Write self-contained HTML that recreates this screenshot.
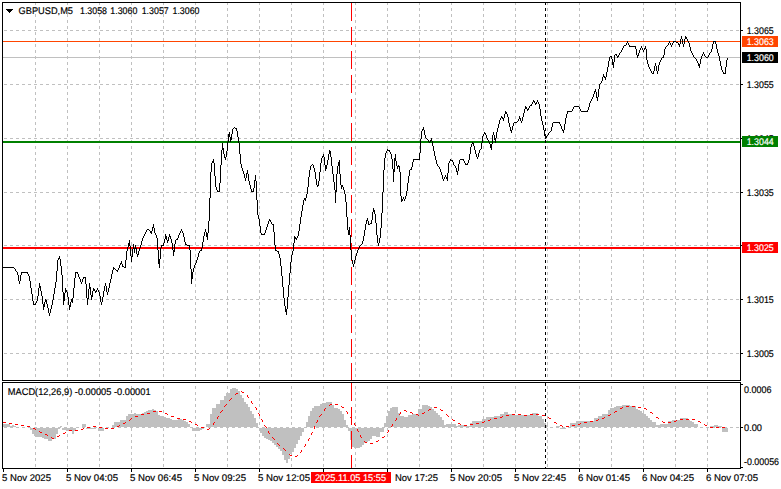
<!DOCTYPE html>
<html><head><meta charset="utf-8"><style>
html,body{margin:0;padding:0;background:#fff;width:781px;height:489px;overflow:hidden;position:relative}
</style></head><body>
<svg width="781" height="489" viewBox="0 0 781 489" style="position:absolute;left:0;top:0">
<g shape-rendering="crispEdges">
<line x1="4" y1="30.5" x2="739" y2="30.5" stroke="#c0c0c0" stroke-width="1" stroke-dasharray="3 3"/>
<line x1="4" y1="84.5" x2="739" y2="84.5" stroke="#c0c0c0" stroke-width="1" stroke-dasharray="3 3"/>
<line x1="4" y1="138.5" x2="739" y2="138.5" stroke="#c0c0c0" stroke-width="1" stroke-dasharray="3 3"/>
<line x1="4" y1="192.5" x2="739" y2="192.5" stroke="#c0c0c0" stroke-width="1" stroke-dasharray="3 3"/>
<line x1="4" y1="245.5" x2="739" y2="245.5" stroke="#c0c0c0" stroke-width="1" stroke-dasharray="3 3"/>
<line x1="4" y1="299.5" x2="739" y2="299.5" stroke="#c0c0c0" stroke-width="1" stroke-dasharray="3 3"/>
<line x1="4" y1="353.5" x2="739" y2="353.5" stroke="#c0c0c0" stroke-width="1" stroke-dasharray="3 3"/>
<line x1="4" y1="427.5" x2="739" y2="427.5" stroke="#c0c0c0" stroke-width="1" stroke-dasharray="3 3"/>
<line x1="35.5" y1="2" x2="35.5" y2="380" stroke="#c0c0c0" stroke-width="1" stroke-dasharray="3 3"/>
<line x1="35.5" y1="386" x2="35.5" y2="468" stroke="#c0c0c0" stroke-width="1" stroke-dasharray="3 3"/>
<line x1="67.5" y1="2" x2="67.5" y2="380" stroke="#c0c0c0" stroke-width="1" stroke-dasharray="3 3"/>
<line x1="67.5" y1="386" x2="67.5" y2="468" stroke="#c0c0c0" stroke-width="1" stroke-dasharray="3 3"/>
<line x1="99.5" y1="2" x2="99.5" y2="380" stroke="#c0c0c0" stroke-width="1" stroke-dasharray="3 3"/>
<line x1="99.5" y1="386" x2="99.5" y2="468" stroke="#c0c0c0" stroke-width="1" stroke-dasharray="3 3"/>
<line x1="131.5" y1="2" x2="131.5" y2="380" stroke="#c0c0c0" stroke-width="1" stroke-dasharray="3 3"/>
<line x1="131.5" y1="386" x2="131.5" y2="468" stroke="#c0c0c0" stroke-width="1" stroke-dasharray="3 3"/>
<line x1="163.5" y1="2" x2="163.5" y2="380" stroke="#c0c0c0" stroke-width="1" stroke-dasharray="3 3"/>
<line x1="163.5" y1="386" x2="163.5" y2="468" stroke="#c0c0c0" stroke-width="1" stroke-dasharray="3 3"/>
<line x1="195.5" y1="2" x2="195.5" y2="380" stroke="#c0c0c0" stroke-width="1" stroke-dasharray="3 3"/>
<line x1="195.5" y1="386" x2="195.5" y2="468" stroke="#c0c0c0" stroke-width="1" stroke-dasharray="3 3"/>
<line x1="227.5" y1="2" x2="227.5" y2="380" stroke="#c0c0c0" stroke-width="1" stroke-dasharray="3 3"/>
<line x1="227.5" y1="386" x2="227.5" y2="468" stroke="#c0c0c0" stroke-width="1" stroke-dasharray="3 3"/>
<line x1="259.5" y1="2" x2="259.5" y2="380" stroke="#c0c0c0" stroke-width="1" stroke-dasharray="3 3"/>
<line x1="259.5" y1="386" x2="259.5" y2="468" stroke="#c0c0c0" stroke-width="1" stroke-dasharray="3 3"/>
<line x1="291.5" y1="2" x2="291.5" y2="380" stroke="#c0c0c0" stroke-width="1" stroke-dasharray="3 3"/>
<line x1="291.5" y1="386" x2="291.5" y2="468" stroke="#c0c0c0" stroke-width="1" stroke-dasharray="3 3"/>
<line x1="323.5" y1="2" x2="323.5" y2="380" stroke="#c0c0c0" stroke-width="1" stroke-dasharray="3 3"/>
<line x1="323.5" y1="386" x2="323.5" y2="468" stroke="#c0c0c0" stroke-width="1" stroke-dasharray="3 3"/>
<line x1="355.5" y1="2" x2="355.5" y2="380" stroke="#c0c0c0" stroke-width="1" stroke-dasharray="3 3"/>
<line x1="355.5" y1="386" x2="355.5" y2="468" stroke="#c0c0c0" stroke-width="1" stroke-dasharray="3 3"/>
<line x1="387.5" y1="2" x2="387.5" y2="380" stroke="#c0c0c0" stroke-width="1" stroke-dasharray="3 3"/>
<line x1="387.5" y1="386" x2="387.5" y2="468" stroke="#c0c0c0" stroke-width="1" stroke-dasharray="3 3"/>
<line x1="419.5" y1="2" x2="419.5" y2="380" stroke="#c0c0c0" stroke-width="1" stroke-dasharray="3 3"/>
<line x1="419.5" y1="386" x2="419.5" y2="468" stroke="#c0c0c0" stroke-width="1" stroke-dasharray="3 3"/>
<line x1="451.5" y1="2" x2="451.5" y2="380" stroke="#c0c0c0" stroke-width="1" stroke-dasharray="3 3"/>
<line x1="451.5" y1="386" x2="451.5" y2="468" stroke="#c0c0c0" stroke-width="1" stroke-dasharray="3 3"/>
<line x1="483.5" y1="2" x2="483.5" y2="380" stroke="#c0c0c0" stroke-width="1" stroke-dasharray="3 3"/>
<line x1="483.5" y1="386" x2="483.5" y2="468" stroke="#c0c0c0" stroke-width="1" stroke-dasharray="3 3"/>
<line x1="515.5" y1="2" x2="515.5" y2="380" stroke="#c0c0c0" stroke-width="1" stroke-dasharray="3 3"/>
<line x1="515.5" y1="386" x2="515.5" y2="468" stroke="#c0c0c0" stroke-width="1" stroke-dasharray="3 3"/>
<line x1="547.5" y1="2" x2="547.5" y2="380" stroke="#c0c0c0" stroke-width="1" stroke-dasharray="3 3"/>
<line x1="547.5" y1="386" x2="547.5" y2="468" stroke="#c0c0c0" stroke-width="1" stroke-dasharray="3 3"/>
<line x1="579.5" y1="2" x2="579.5" y2="380" stroke="#c0c0c0" stroke-width="1" stroke-dasharray="3 3"/>
<line x1="579.5" y1="386" x2="579.5" y2="468" stroke="#c0c0c0" stroke-width="1" stroke-dasharray="3 3"/>
<line x1="611.5" y1="2" x2="611.5" y2="380" stroke="#c0c0c0" stroke-width="1" stroke-dasharray="3 3"/>
<line x1="611.5" y1="386" x2="611.5" y2="468" stroke="#c0c0c0" stroke-width="1" stroke-dasharray="3 3"/>
<line x1="643.5" y1="2" x2="643.5" y2="380" stroke="#c0c0c0" stroke-width="1" stroke-dasharray="3 3"/>
<line x1="643.5" y1="386" x2="643.5" y2="468" stroke="#c0c0c0" stroke-width="1" stroke-dasharray="3 3"/>
<line x1="675.5" y1="2" x2="675.5" y2="380" stroke="#c0c0c0" stroke-width="1" stroke-dasharray="3 3"/>
<line x1="675.5" y1="386" x2="675.5" y2="468" stroke="#c0c0c0" stroke-width="1" stroke-dasharray="3 3"/>
<line x1="707.5" y1="2" x2="707.5" y2="380" stroke="#c0c0c0" stroke-width="1" stroke-dasharray="3 3"/>
<line x1="707.5" y1="386" x2="707.5" y2="468" stroke="#c0c0c0" stroke-width="1" stroke-dasharray="3 3"/>
</g>
<path d="M2 424h2V427h-2zM4 424h2V427h-2zM6 424h2V427h-2zM8 424h2V427h-2zM10 426h2V427h-2zM12 425h2V427h-2zM14 426h2V427h-2zM30 428h2V430h-2zM32 428h2V434h-2zM34 428h2V436h-2zM36 428h2V437h-2zM38 428h2V437h-2zM40 428h2V437h-2zM42 428h2V438h-2zM44 428h2V439h-2zM46 428h2V439h-2zM48 428h2V441h-2zM50 428h2V441h-2zM52 428h2V439h-2zM54 428h2V439h-2zM56 428h2V434h-2zM58 428h2V429h-2zM60 426h2V427h-2zM62 428h2V430h-2zM64 428h2V430h-2zM66 428h2V431h-2zM68 428h2V431h-2zM70 428h2V431h-2zM72 428h2V434h-2zM74 428h2V431h-2zM82 424h2V427h-2zM84 424h2V427h-2zM86 428h2V429h-2zM88 428h2V429h-2zM90 428h2V429h-2zM92 428h2V429h-2zM94 428h2V429h-2zM98 428h2V431h-2zM100 428h2V431h-2zM102 428h2V431h-2zM112 425h2V427h-2zM114 422h2V427h-2zM116 422h2V427h-2zM118 422h2V427h-2zM120 420h2V427h-2zM122 420h2V427h-2zM124 420h2V427h-2zM126 416h2V427h-2zM128 414h2V427h-2zM130 414h2V427h-2zM132 414h2V427h-2zM134 413h2V427h-2zM136 414h2V427h-2zM138 414h2V427h-2zM140 414h2V427h-2zM142 413h2V427h-2zM144 412h2V427h-2zM146 411h2V427h-2zM148 410h2V427h-2zM150 410h2V427h-2zM152 409h2V427h-2zM154 410h2V427h-2zM156 411h2V427h-2zM158 415h2V427h-2zM160 416h2V427h-2zM162 416h2V427h-2zM164 417h2V427h-2zM166 418h2V427h-2zM168 418h2V427h-2zM170 419h2V427h-2zM172 420h2V427h-2zM174 420h2V427h-2zM176 420h2V427h-2zM178 419h2V427h-2zM180 419h2V427h-2zM182 420h2V427h-2zM184 421h2V427h-2zM186 422h2V427h-2zM188 424h2V427h-2zM192 428h2V431h-2zM194 428h2V431h-2zM196 428h2V431h-2zM198 428h2V431h-2zM200 428h2V430h-2zM202 428h2V429h-2zM206 424h2V427h-2zM208 424h2V427h-2zM210 414h2V427h-2zM212 408h2V427h-2zM214 408h2V427h-2zM216 404h2V427h-2zM218 404h2V427h-2zM220 400h2V427h-2zM222 400h2V427h-2zM224 396h2V427h-2zM226 393h2V427h-2zM228 393h2V427h-2zM230 389h2V427h-2zM232 388h2V427h-2zM234 388h2V427h-2zM236 389h2V427h-2zM238 391h2V427h-2zM240 395h2V427h-2zM242 398h2V427h-2zM244 402h2V427h-2zM246 404h2V427h-2zM248 407h2V427h-2zM250 411h2V427h-2zM252 414h2V427h-2zM254 418h2V427h-2zM256 423h2V427h-2zM260 428h2V433h-2zM262 428h2V436h-2zM264 428h2V438h-2zM266 428h2V439h-2zM268 428h2V440h-2zM270 428h2V441h-2zM272 428h2V443h-2zM274 428h2V445h-2zM276 428h2V447h-2zM278 428h2V449h-2zM280 428h2V451h-2zM282 428h2V455h-2zM284 428h2V460h-2zM286 428h2V463h-2zM288 428h2V459h-2zM290 428h2V454h-2zM292 428h2V452h-2zM294 428h2V448h-2zM296 428h2V444h-2zM298 428h2V440h-2zM300 428h2V436h-2zM302 428h2V432h-2zM306 422h2V427h-2zM308 416h2V427h-2zM310 411h2V427h-2zM312 408h2V427h-2zM314 406h2V427h-2zM316 406h2V427h-2zM318 406h2V427h-2zM320 404h2V427h-2zM322 403h2V427h-2zM324 403h2V427h-2zM326 402h2V427h-2zM328 402h2V427h-2zM330 402h2V427h-2zM332 405h2V427h-2zM334 408h2V427h-2zM336 408h2V427h-2zM338 409h2V427h-2zM340 411h2V427h-2zM342 414h2V427h-2zM344 420h2V427h-2zM346 425h2V427h-2zM348 428h2V431h-2zM350 428h2V440h-2zM352 428h2V447h-2zM354 428h2V448h-2zM356 428h2V448h-2zM358 428h2V448h-2zM360 428h2V447h-2zM362 428h2V445h-2zM364 428h2V443h-2zM366 428h2V442h-2zM368 428h2V441h-2zM370 428h2V439h-2zM372 428h2V436h-2zM374 428h2V436h-2zM376 428h2V437h-2zM378 428h2V437h-2zM380 428h2V432h-2zM382 428h2V432h-2zM384 423h2V427h-2zM386 416h2V427h-2zM388 411h2V427h-2zM390 408h2V427h-2zM392 407h2V427h-2zM394 407h2V427h-2zM396 407h2V427h-2zM398 413h2V427h-2zM400 416h2V427h-2zM402 416h2V427h-2zM404 417h2V427h-2zM406 417h2V427h-2zM408 415h2V427h-2zM410 415h2V427h-2zM412 414h2V427h-2zM414 414h2V427h-2zM416 414h2V427h-2zM418 409h2V427h-2zM420 409h2V427h-2zM422 405h2V427h-2zM424 405h2V427h-2zM426 405h2V427h-2zM428 406h2V427h-2zM430 407h2V427h-2zM432 409h2V427h-2zM434 411h2V427h-2zM436 413h2V427h-2zM438 415h2V427h-2zM440 417h2V427h-2zM442 420h2V427h-2zM444 425h2V427h-2zM446 424h2V427h-2zM448 424h2V427h-2zM450 424h2V427h-2zM452 424h2V427h-2zM454 424h2V427h-2zM456 426h2V427h-2zM458 425h2V427h-2zM460 425h2V427h-2zM462 425h2V427h-2zM464 426h2V427h-2zM466 426h2V427h-2zM468 426h2V427h-2zM470 423h2V427h-2zM472 421h2V427h-2zM474 421h2V427h-2zM476 421h2V427h-2zM478 421h2V427h-2zM480 421h2V427h-2zM482 419h2V427h-2zM484 419h2V427h-2zM486 417h2V427h-2zM488 417h2V427h-2zM490 417h2V427h-2zM492 417h2V427h-2zM494 416h2V427h-2zM496 416h2V427h-2zM498 416h2V427h-2zM500 414h2V427h-2zM502 414h2V427h-2zM504 412h2V427h-2zM506 412h2V427h-2zM508 414h2V427h-2zM510 414h2V427h-2zM512 415h2V427h-2zM514 415h2V427h-2zM516 415h2V427h-2zM518 415h2V427h-2zM520 415h2V427h-2zM522 415h2V427h-2zM524 415h2V427h-2zM526 415h2V427h-2zM528 415h2V427h-2zM530 415h2V427h-2zM532 413h2V427h-2zM534 413h2V427h-2zM536 413h2V427h-2zM538 416h2V427h-2zM540 416h2V427h-2zM542 419h2V427h-2zM544 423h2V427h-2zM546 425h2V427h-2zM556 426h2V427h-2zM558 426h2V427h-2zM560 428h2V429h-2zM562 428h2V429h-2zM564 428h2V429h-2zM570 423h2V427h-2zM572 423h2V427h-2zM574 423h2V427h-2zM576 421h2V427h-2zM578 421h2V427h-2zM580 421h2V427h-2zM582 421h2V427h-2zM584 421h2V427h-2zM586 421h2V427h-2zM588 421h2V427h-2zM590 421h2V427h-2zM592 421h2V427h-2zM594 418h2V427h-2zM596 418h2V427h-2zM598 416h2V427h-2zM600 416h2V427h-2zM602 414h2V427h-2zM604 414h2V427h-2zM606 414h2V427h-2zM608 410h2V427h-2zM610 408h2V427h-2zM612 408h2V427h-2zM614 407h2V427h-2zM616 406h2V427h-2zM618 406h2V427h-2zM620 406h2V427h-2zM622 405h2V427h-2zM624 405h2V427h-2zM626 405h2V427h-2zM628 405h2V427h-2zM630 406h2V427h-2zM632 406h2V427h-2zM634 406h2V427h-2zM636 409h2V427h-2zM638 410h2V427h-2zM640 411h2V427h-2zM642 413h2V427h-2zM644 414h2V427h-2zM646 416h2V427h-2zM648 418h2V427h-2zM650 420h2V427h-2zM652 422h2V427h-2zM654 422h2V427h-2zM656 425h2V427h-2zM658 425h2V427h-2zM660 424h2V427h-2zM662 424h2V427h-2zM664 424h2V427h-2zM666 424h2V427h-2zM668 421h2V427h-2zM670 421h2V427h-2zM672 420h2V427h-2zM674 420h2V427h-2zM676 420h2V427h-2zM678 420h2V427h-2zM680 418h2V427h-2zM682 418h2V427h-2zM684 418h2V427h-2zM686 418h2V427h-2zM688 420h2V427h-2zM690 421h2V427h-2zM692 422h2V427h-2zM694 424h2V427h-2zM696 424h2V427h-2zM710 426h2V427h-2zM712 426h2V427h-2zM714 425h2V427h-2zM716 425h2V427h-2zM718 426h2V427h-2zM720 426h2V427h-2zM722 428h2V432h-2zM724 428h2V432h-2zM726 428h2V432h-2z" fill="#c0c0c0" shape-rendering="crispEdges"/>
<path d="M3 422h1v1h-1zM4 422h1v1h-1zM5 422h1v1h-1zM9 423h1v1h-1zM10 423h1v1h-1zM11 423h1v1h-1zM15 424h1v1h-1zM16 424h1v1h-1zM17 424h1v1h-1zM21 425h1v1h-1zM22 425h1v1h-1zM23 425h1v1h-1zM27 426h1v1h-1zM28 426h1v1h-1zM29 426h1v1h-1zM33 428h1v1h-1zM34 428h1v1h-1zM35 429h1v1h-1zM39 431h1v1h-1zM40 432h1v1h-1zM41 432h1v1h-1zM45 434h1v1h-1zM46 434h1v1h-1zM47 435h1v1h-1zM51 437h1v1h-1zM52 438h1v1h-1zM53 438h1v1h-1zM57 436h1v1h-1zM58 436h1v1h-1zM59 435h1v1h-1zM63 433h1v1h-1zM64 433h1v1h-1zM65 432h1v1h-1zM69 430h1v1h-1zM70 430h1v1h-1zM71 430h1v1h-1zM75 430h1v1h-1zM76 430h1v1h-1zM77 430h1v1h-1zM81 429h1v1h-1zM82 429h1v1h-1zM83 428h1v1h-1zM87 427h1v1h-1zM88 427h1v1h-1zM89 427h1v1h-1zM93 426h1v1h-1zM94 426h1v1h-1zM95 426h1v1h-1zM99 427h1v1h-1zM100 427h1v1h-1zM101 427h1v1h-1zM105 428h1v1h-1zM106 428h1v1h-1zM107 428h1v1h-1zM111 428h1v1h-1zM112 428h1v1h-1zM113 428h1v1h-1zM117 426h1v1h-1zM118 426h1v1h-1zM119 425h1v1h-1zM123 423h1v1h-1zM124 423h1v1h-1zM125 422h1v1h-1zM129 420h1v1h-1zM130 419h1v1h-1zM131 418h1v1h-1zM135 416h1v1h-1zM136 416h1v1h-1zM137 416h1v1h-1zM141 414h1v1h-1zM142 414h1v1h-1zM143 414h1v1h-1zM147 413h1v1h-1zM148 413h1v1h-1zM149 413h1v1h-1zM153 411h1v1h-1zM154 411h1v1h-1zM155 411h1v1h-1zM159 411h1v1h-1zM160 411h1v1h-1zM161 411h1v1h-1zM165 413h1v1h-1zM166 413h1v1h-1zM167 414h1v1h-1zM171 416h1v1h-1zM172 416h1v1h-1zM173 416h1v1h-1zM177 418h1v1h-1zM178 418h1v1h-1zM179 418h1v1h-1zM183 419h1v1h-1zM184 419h1v1h-1zM185 419h1v1h-1zM189 421h1v1h-1zM190 421h1v1h-1zM191 422h1v1h-1zM195 424h1v1h-1zM196 424h1v1h-1zM197 425h1v1h-1zM201 427h1v1h-1zM202 427h1v1h-1zM203 427h1v1h-1zM207 429h1v1h-1zM208 429h1v1h-1zM209 428h1v1h-1zM213 424h1v1h-1zM213 423h1v1h-1zM214 422h1v1h-1zM217 418h1v1h-1zM217 417h1v1h-1zM218 416h1v1h-1zM220 412h1v1h-1zM221 411h1v1h-1zM222 410h1v1h-1zM224 406h1v1h-1zM225 405h1v1h-1zM226 404h1v1h-1zM229 400h1v1h-1zM230 399h1v1h-1zM231 398h1v1h-1zM235 394h1v1h-1zM236 393h1v1h-1zM237 393h1v1h-1zM241 391h1v1h-1zM242 392h1v1h-1zM243 392h1v1h-1zM247 395h1v1h-1zM247 396h1v1h-1zM248 397h1v1h-1zM251 401h1v1h-1zM251 402h1v1h-1zM252 403h1v1h-1zM255 407h1v1h-1zM256 408h1v1h-1zM256 409h1v1h-1zM258 413h1v1h-1zM259 414h1v1h-1zM259 415h1v1h-1zM261 419h1v1h-1zM262 420h1v1h-1zM262 421h1v1h-1zM264 425h1v1h-1zM265 426h1v1h-1zM266 427h1v1h-1zM268 431h1v1h-1zM268 432h1v1h-1zM269 433h1v1h-1zM272 437h1v1h-1zM273 438h1v1h-1zM274 439h1v1h-1zM277 443h1v1h-1zM278 444h1v1h-1zM279 445h1v1h-1zM283 448h1v1h-1zM284 449h1v1h-1zM285 450h1v1h-1zM289 454h1v1h-1zM290 455h1v1h-1zM291 455h1v1h-1zM295 456h1v1h-1zM296 456h1v1h-1zM297 455h1v1h-1zM300 452h1v1h-1zM301 451h1v1h-1zM301 450h1v1h-1zM304 446h1v1h-1zM305 445h1v1h-1zM305 444h1v1h-1zM308 440h1v1h-1zM308 439h1v1h-1zM309 438h1v1h-1zM311 434h1v1h-1zM311 433h1v1h-1zM312 432h1v1h-1zM314 428h1v1h-1zM314 427h1v1h-1zM314 426h1v1h-1zM316 422h1v1h-1zM317 421h1v1h-1zM317 420h1v1h-1zM319 416h1v1h-1zM320 415h1v1h-1zM321 414h1v1h-1zM324 410h1v1h-1zM324 409h1v1h-1zM325 408h1v1h-1zM329 405h1v1h-1zM330 404h1v1h-1zM331 404h1v1h-1zM335 404h1v1h-1zM336 404h1v1h-1zM337 404h1v1h-1zM341 406h1v1h-1zM342 407h1v1h-1zM343 407h1v1h-1zM346 411h1v1h-1zM347 412h1v1h-1zM347 413h1v1h-1zM350 417h1v1h-1zM351 418h1v1h-1zM351 419h1v1h-1zM354 423h1v1h-1zM354 424h1v1h-1zM355 425h1v1h-1zM357 429h1v1h-1zM357 430h1v1h-1zM358 431h1v1h-1zM360 435h1v1h-1zM360 436h1v1h-1zM361 437h1v1h-1zM364 441h1v1h-1zM365 442h1v1h-1zM366 442h1v1h-1zM370 443h1v1h-1zM371 443h1v1h-1zM372 443h1v1h-1zM376 441h1v1h-1zM377 441h1v1h-1zM378 440h1v1h-1zM382 437h1v1h-1zM383 437h1v1h-1zM384 436h1v1h-1zM387 432h1v1h-1zM388 431h1v1h-1zM388 430h1v1h-1zM391 426h1v1h-1zM392 425h1v1h-1zM392 424h1v1h-1zM395 420h1v1h-1zM396 419h1v1h-1zM396 418h1v1h-1zM399 414h1v1h-1zM400 413h1v1h-1zM400 412h1v1h-1zM404 410h1v1h-1zM405 410h1v1h-1zM406 411h1v1h-1zM410 412h1v1h-1zM411 412h1v1h-1zM412 413h1v1h-1zM416 414h1v1h-1zM417 414h1v1h-1zM418 415h1v1h-1zM422 413h1v1h-1zM423 413h1v1h-1zM424 412h1v1h-1zM428 410h1v1h-1zM429 409h1v1h-1zM430 409h1v1h-1zM434 407h1v1h-1zM435 407h1v1h-1zM436 407h1v1h-1zM440 409h1v1h-1zM441 410h1v1h-1zM442 410h1v1h-1zM446 414h1v1h-1zM447 415h1v1h-1zM448 416h1v1h-1zM452 419h1v1h-1zM453 420h1v1h-1zM454 420h1v1h-1zM458 423h1v1h-1zM459 423h1v1h-1zM460 424h1v1h-1zM464 425h1v1h-1zM465 425h1v1h-1zM466 425h1v1h-1zM470 424h1v1h-1zM471 424h1v1h-1zM472 424h1v1h-1zM476 423h1v1h-1zM477 423h1v1h-1zM478 423h1v1h-1zM482 422h1v1h-1zM483 422h1v1h-1zM484 421h1v1h-1zM488 420h1v1h-1zM489 420h1v1h-1zM490 419h1v1h-1zM494 418h1v1h-1zM495 418h1v1h-1zM496 418h1v1h-1zM500 417h1v1h-1zM501 417h1v1h-1zM502 416h1v1h-1zM506 415h1v1h-1zM507 415h1v1h-1zM508 415h1v1h-1zM512 414h1v1h-1zM513 414h1v1h-1zM514 414h1v1h-1zM518 414h1v1h-1zM519 414h1v1h-1zM520 414h1v1h-1zM524 415h1v1h-1zM525 415h1v1h-1zM526 415h1v1h-1zM530 414h1v1h-1zM531 414h1v1h-1zM532 414h1v1h-1zM536 414h1v1h-1zM537 414h1v1h-1zM538 414h1v1h-1zM542 415h1v1h-1zM543 415h1v1h-1zM544 415h1v1h-1zM548 417h1v1h-1zM549 418h1v1h-1zM550 418h1v1h-1zM554 422h1v1h-1zM555 422h1v1h-1zM556 423h1v1h-1zM560 425h1v1h-1zM561 425h1v1h-1zM562 426h1v1h-1zM566 426h1v1h-1zM567 426h1v1h-1zM568 426h1v1h-1zM572 425h1v1h-1zM573 425h1v1h-1zM574 425h1v1h-1zM578 424h1v1h-1zM579 424h1v1h-1zM580 423h1v1h-1zM584 422h1v1h-1zM585 422h1v1h-1zM586 422h1v1h-1zM590 421h1v1h-1zM591 421h1v1h-1zM592 421h1v1h-1zM596 420h1v1h-1zM597 420h1v1h-1zM598 419h1v1h-1zM602 418h1v1h-1zM603 418h1v1h-1zM604 417h1v1h-1zM608 415h1v1h-1zM609 415h1v1h-1zM610 414h1v1h-1zM614 412h1v1h-1zM615 411h1v1h-1zM616 411h1v1h-1zM620 408h1v1h-1zM621 408h1v1h-1zM622 407h1v1h-1zM626 406h1v1h-1zM627 406h1v1h-1zM628 406h1v1h-1zM632 406h1v1h-1zM633 406h1v1h-1zM634 406h1v1h-1zM638 407h1v1h-1zM639 407h1v1h-1zM640 407h1v1h-1zM644 408h1v1h-1zM645 408h1v1h-1zM646 409h1v1h-1zM650 412h1v1h-1zM651 412h1v1h-1zM652 413h1v1h-1zM656 417h1v1h-1zM657 417h1v1h-1zM658 418h1v1h-1zM662 421h1v1h-1zM663 422h1v1h-1zM664 422h1v1h-1zM668 422h1v1h-1zM669 422h1v1h-1zM670 422h1v1h-1zM674 421h1v1h-1zM675 421h1v1h-1zM676 420h1v1h-1zM680 419h1v1h-1zM681 419h1v1h-1zM682 419h1v1h-1zM686 419h1v1h-1zM687 419h1v1h-1zM688 419h1v1h-1zM692 419h1v1h-1zM693 419h1v1h-1zM694 419h1v1h-1zM698 421h1v1h-1zM699 421h1v1h-1zM700 422h1v1h-1zM704 424h1v1h-1zM705 425h1v1h-1zM706 425h1v1h-1zM710 427h1v1h-1zM711 427h1v1h-1zM712 427h1v1h-1zM716 427h1v1h-1zM717 427h1v1h-1zM718 427h1v1h-1zM722 427h1v1h-1zM723 427h1v1h-1zM724 427h1v1h-1z" fill="#ff0000" shape-rendering="crispEdges"/>
<rect x="3" y="41" width="737" height="1" fill="#ff4500"/>
<rect x="3" y="57" width="737" height="1" fill="#c0c0c0"/>
<rect x="3" y="141" width="737" height="2" fill="#008000"/>
<rect x="3" y="247" width="737" height="2" fill="#ff0000"/>
<g shape-rendering="crispEdges">
<line x1="351.5" y1="3" x2="351.5" y2="380" stroke="#ff0000" stroke-width="1" stroke-dasharray="18 6"/>
<line x1="351.5" y1="383" x2="351.5" y2="468" stroke="#ff0000" stroke-width="1" stroke-dasharray="18 6"/>
<line x1="545.5" y1="2" x2="545.5" y2="380" stroke="#000" stroke-width="1" stroke-dasharray="3 3"/>
<line x1="545.5" y1="383" x2="545.5" y2="468" stroke="#000" stroke-width="1" stroke-dasharray="3 3"/>
</g>
<path d="M681 36h1v1h-1zM685 36h1v1h-1zM681 37h1v1h-1zM685 37h2v1h-2zM681 38h1v1h-1zM685 38h2v1h-2zM680 39h1v1h-1zM682 39h1v1h-1zM684 39h1v1h-1zM687 39h1v1h-1zM680 40h1v1h-1zM682 40h1v1h-1zM684 40h1v1h-1zM687 40h1v1h-1zM627 41h1v1h-1zM669 41h1v1h-1zM673 41h3v1h-3zM680 41h1v1h-1zM682 41h1v1h-1zM684 41h1v1h-1zM688 41h1v1h-1zM713 41h3v1h-3zM627 42h1v1h-1zM669 42h1v1h-1zM673 42h1v1h-1zM676 42h2v1h-2zM680 42h1v1h-1zM682 42h1v1h-1zM684 42h1v1h-1zM688 42h1v1h-1zM713 42h1v1h-1zM715 42h1v1h-1zM626 43h1v1h-1zM628 43h1v1h-1zM668 43h1v1h-1zM670 43h1v1h-1zM672 43h1v1h-1zM678 43h1v1h-1zM680 43h1v1h-1zM682 43h1v1h-1zM684 43h1v1h-1zM689 43h1v1h-1zM713 43h1v1h-1zM715 43h1v1h-1zM626 44h1v1h-1zM628 44h1v1h-1zM668 44h1v1h-1zM670 44h1v1h-1zM672 44h1v1h-1zM678 44h2v1h-2zM683 44h1v1h-1zM689 44h1v1h-1zM712 44h1v1h-1zM716 44h1v1h-1zM624 45h2v1h-2zM629 45h1v1h-1zM667 45h1v1h-1zM671 45h1v1h-1zM679 45h1v1h-1zM683 45h1v1h-1zM689 45h1v1h-1zM712 45h1v1h-1zM716 45h1v1h-1zM623 46h1v1h-1zM629 46h7v1h-7zM641 46h1v1h-1zM645 46h1v1h-1zM666 46h1v1h-1zM671 46h1v1h-1zM679 46h1v1h-1zM683 46h1v1h-1zM689 46h1v1h-1zM712 46h1v1h-1zM716 46h1v1h-1zM623 47h1v1h-1zM635 47h1v1h-1zM641 47h1v1h-1zM645 47h1v1h-1zM665 47h1v1h-1zM690 47h1v1h-1zM712 47h1v1h-1zM716 47h1v1h-1zM622 48h1v1h-1zM635 48h1v1h-1zM640 48h1v1h-1zM642 48h1v1h-1zM644 48h2v1h-2zM665 48h1v1h-1zM690 48h1v1h-1zM712 48h1v1h-1zM716 48h1v1h-1zM622 49h1v1h-1zM636 49h1v1h-1zM640 49h1v1h-1zM642 49h1v1h-1zM644 49h1v1h-1zM646 49h1v1h-1zM664 49h1v1h-1zM690 49h1v1h-1zM711 49h1v1h-1zM717 49h1v1h-1zM621 50h1v1h-1zM636 50h1v1h-1zM639 50h1v1h-1zM643 50h1v1h-1zM646 50h1v1h-1zM664 50h1v1h-1zM690 50h1v1h-1zM711 50h1v1h-1zM717 50h1v1h-1zM621 51h1v1h-1zM636 51h1v1h-1zM639 51h1v1h-1zM643 51h1v1h-1zM646 51h1v1h-1zM664 51h1v1h-1zM691 51h1v1h-1zM711 51h1v1h-1zM717 51h1v1h-1zM620 52h1v1h-1zM636 52h1v1h-1zM639 52h1v1h-1zM646 52h1v1h-1zM664 52h1v1h-1zM691 52h1v1h-1zM703 52h1v1h-1zM710 52h1v1h-1zM717 52h1v1h-1zM619 53h1v1h-1zM636 53h1v1h-1zM638 53h1v1h-1zM646 53h1v1h-1zM664 53h1v1h-1zM692 53h1v1h-1zM703 53h1v1h-1zM709 53h1v1h-1zM718 53h1v1h-1zM615 54h2v1h-2zM619 54h1v1h-1zM636 54h1v1h-1zM638 54h1v1h-1zM646 54h1v1h-1zM664 54h1v1h-1zM692 54h1v1h-1zM702 54h1v1h-1zM704 54h1v1h-1zM709 54h1v1h-1zM718 54h1v1h-1zM614 55h1v1h-1zM616 55h1v1h-1zM618 55h1v1h-1zM637 55h2v1h-2zM646 55h1v1h-1zM663 55h1v1h-1zM693 55h1v1h-1zM702 55h1v1h-1zM704 55h1v1h-1zM708 55h1v1h-1zM718 55h1v1h-1zM610 56h2v1h-2zM614 56h1v1h-1zM617 56h2v1h-2zM637 56h1v1h-1zM646 56h1v1h-1zM663 56h1v1h-1zM693 56h1v1h-1zM701 56h1v1h-1zM705 56h1v1h-1zM708 56h1v1h-1zM719 56h1v1h-1zM609 57h1v1h-1zM611 57h1v1h-1zM614 57h1v1h-1zM617 57h1v1h-1zM637 57h1v1h-1zM646 57h1v1h-1zM662 57h2v1h-2zM694 57h1v1h-1zM701 57h1v1h-1zM706 57h2v1h-2zM719 57h1v1h-1zM609 58h1v1h-1zM611 58h1v1h-1zM614 58h1v1h-1zM646 58h1v1h-1zM661 58h1v1h-1zM695 58h1v1h-1zM701 58h1v1h-1zM719 58h1v1h-1zM727 58h1v1h-1zM609 59h1v1h-1zM612 59h1v1h-1zM614 59h1v1h-1zM646 59h1v1h-1zM661 59h1v1h-1zM696 59h1v1h-1zM700 59h1v1h-1zM719 59h1v1h-1zM727 59h1v1h-1zM609 60h1v1h-1zM612 60h1v1h-1zM614 60h1v1h-1zM647 60h1v1h-1zM660 60h1v1h-1zM696 60h1v1h-1zM700 60h1v1h-1zM719 60h1v1h-1zM726 60h1v1h-1zM608 61h1v1h-1zM612 61h1v1h-1zM614 61h1v1h-1zM647 61h1v1h-1zM660 61h1v1h-1zM697 61h1v1h-1zM700 61h1v1h-1zM720 61h1v1h-1zM726 61h1v1h-1zM608 62h1v1h-1zM612 62h2v1h-2zM647 62h1v1h-1zM659 62h1v1h-1zM697 62h1v1h-1zM700 62h1v1h-1zM720 62h1v1h-1zM726 62h1v1h-1zM608 63h1v1h-1zM612 63h2v1h-2zM647 63h1v1h-1zM655 63h1v1h-1zM659 63h1v1h-1zM698 63h1v1h-1zM700 63h1v1h-1zM720 63h1v1h-1zM726 63h1v1h-1zM608 64h1v1h-1zM612 64h2v1h-2zM648 64h1v1h-1zM655 64h1v1h-1zM659 64h1v1h-1zM698 64h2v1h-2zM720 64h1v1h-1zM726 64h1v1h-1zM608 65h1v1h-1zM613 65h1v1h-1zM648 65h1v1h-1zM655 65h1v1h-1zM658 65h1v1h-1zM698 65h2v1h-2zM720 65h1v1h-1zM726 65h1v1h-1zM608 66h1v1h-1zM613 66h1v1h-1zM648 66h1v1h-1zM654 66h1v1h-1zM656 66h1v1h-1zM658 66h1v1h-1zM699 66h1v1h-1zM721 66h1v1h-1zM726 66h1v1h-1zM607 67h1v1h-1zM613 67h1v1h-1zM649 67h1v1h-1zM654 67h1v1h-1zM656 67h1v1h-1zM658 67h1v1h-1zM699 67h1v1h-1zM721 67h1v1h-1zM725 67h1v1h-1zM607 68h1v1h-1zM649 68h1v1h-1zM654 68h1v1h-1zM656 68h1v1h-1zM658 68h1v1h-1zM721 68h1v1h-1zM725 68h1v1h-1zM607 69h1v1h-1zM650 69h1v1h-1zM654 69h1v1h-1zM656 69h1v1h-1zM658 69h1v1h-1zM721 69h1v1h-1zM725 69h1v1h-1zM607 70h1v1h-1zM650 70h1v1h-1zM654 70h1v1h-1zM656 70h1v1h-1zM658 70h1v1h-1zM722 70h1v1h-1zM725 70h1v1h-1zM607 71h1v1h-1zM651 71h1v1h-1zM653 71h1v1h-1zM657 71h1v1h-1zM722 71h1v1h-1zM725 71h1v1h-1zM606 72h1v1h-1zM651 72h1v1h-1zM653 72h1v1h-1zM657 72h1v1h-1zM723 72h1v1h-1zM725 72h1v1h-1zM606 73h1v1h-1zM652 73h2v1h-2zM657 73h1v1h-1zM723 73h3v1h-3zM603 74h1v1h-1zM606 74h1v1h-1zM603 75h1v1h-1zM606 75h1v1h-1zM603 76h2v1h-2zM606 76h1v1h-1zM602 77h1v1h-1zM604 77h2v1h-2zM602 78h1v1h-1zM605 78h1v1h-1zM602 79h1v1h-1zM605 79h1v1h-1zM602 80h1v1h-1zM601 81h1v1h-1zM601 82h1v1h-1zM600 83h1v1h-1zM599 84h1v1h-1zM599 85h1v1h-1zM599 86h1v1h-1zM599 87h1v1h-1zM599 88h1v1h-1zM595 89h1v1h-1zM598 89h1v1h-1zM595 90h1v1h-1zM598 90h1v1h-1zM594 91h2v1h-2zM598 91h1v1h-1zM594 92h1v1h-1zM596 92h1v1h-1zM598 92h1v1h-1zM594 93h1v1h-1zM596 93h1v1h-1zM598 93h1v1h-1zM593 94h1v1h-1zM596 94h1v1h-1zM598 94h1v1h-1zM593 95h1v1h-1zM596 95h1v1h-1zM598 95h1v1h-1zM593 96h1v1h-1zM596 96h1v1h-1zM598 96h1v1h-1zM592 97h1v1h-1zM596 97h2v1h-2zM592 98h1v1h-1zM597 98h1v1h-1zM591 99h1v1h-1zM597 99h1v1h-1zM533 100h1v1h-1zM537 100h1v1h-1zM591 100h1v1h-1zM597 100h1v1h-1zM533 101h2v1h-2zM537 101h1v1h-1zM590 101h1v1h-1zM532 102h1v1h-1zM534 102h1v1h-1zM536 102h1v1h-1zM538 102h1v1h-1zM590 102h1v1h-1zM532 103h1v1h-1zM535 103h2v1h-2zM538 103h1v1h-1zM589 103h1v1h-1zM531 104h1v1h-1zM535 104h1v1h-1zM539 104h1v1h-1zM589 104h1v1h-1zM530 105h2v1h-2zM539 105h1v1h-1zM589 105h1v1h-1zM525 106h1v1h-1zM529 106h1v1h-1zM539 106h1v1h-1zM574 106h5v1h-5zM589 106h1v1h-1zM525 107h2v1h-2zM529 107h1v1h-1zM539 107h1v1h-1zM573 107h1v1h-1zM579 107h1v1h-1zM588 107h1v1h-1zM525 108h2v1h-2zM528 108h1v1h-1zM539 108h1v1h-1zM573 108h1v1h-1zM579 108h1v1h-1zM588 108h1v1h-1zM524 109h1v1h-1zM527 109h2v1h-2zM540 109h1v1h-1zM572 109h1v1h-1zM580 109h1v1h-1zM588 109h1v1h-1zM524 110h1v1h-1zM527 110h1v1h-1zM540 110h1v1h-1zM572 110h1v1h-1zM580 110h1v1h-1zM587 110h1v1h-1zM505 111h1v1h-1zM524 111h1v1h-1zM540 111h1v1h-1zM567 111h5v1h-5zM581 111h7v1h-7zM505 112h2v1h-2zM524 112h1v1h-1zM540 112h1v1h-1zM567 112h1v1h-1zM505 113h2v1h-2zM523 113h1v1h-1zM540 113h1v1h-1zM567 113h1v1h-1zM504 114h1v1h-1zM507 114h1v1h-1zM523 114h1v1h-1zM540 114h1v1h-1zM566 114h1v1h-1zM504 115h1v1h-1zM507 115h1v1h-1zM523 115h1v1h-1zM540 115h1v1h-1zM566 115h1v1h-1zM501 116h1v1h-1zM504 116h1v1h-1zM507 116h1v1h-1zM519 116h1v1h-1zM523 116h1v1h-1zM541 116h1v1h-1zM566 116h1v1h-1zM501 117h2v1h-2zM504 117h1v1h-1zM508 117h1v1h-1zM519 117h1v1h-1zM522 117h1v1h-1zM541 117h1v1h-1zM566 117h1v1h-1zM500 118h1v1h-1zM502 118h2v1h-2zM508 118h1v1h-1zM519 118h2v1h-2zM522 118h1v1h-1zM541 118h1v1h-1zM565 118h1v1h-1zM500 119h1v1h-1zM503 119h1v1h-1zM508 119h1v1h-1zM518 119h1v1h-1zM520 119h1v1h-1zM522 119h1v1h-1zM541 119h1v1h-1zM565 119h1v1h-1zM499 120h1v1h-1zM503 120h1v1h-1zM508 120h1v1h-1zM518 120h1v1h-1zM520 120h1v1h-1zM522 120h1v1h-1zM541 120h1v1h-1zM565 120h1v1h-1zM499 121h1v1h-1zM508 121h1v1h-1zM517 121h1v1h-1zM521 121h1v1h-1zM542 121h1v1h-1zM565 121h1v1h-1zM499 122h1v1h-1zM508 122h1v1h-1zM514 122h3v1h-3zM521 122h1v1h-1zM542 122h1v1h-1zM553 122h7v1h-7zM565 122h1v1h-1zM499 123h1v1h-1zM509 123h1v1h-1zM513 123h1v1h-1zM542 123h1v1h-1zM552 123h1v1h-1zM559 123h1v1h-1zM565 123h1v1h-1zM498 124h1v1h-1zM509 124h1v1h-1zM513 124h1v1h-1zM542 124h1v1h-1zM552 124h1v1h-1zM560 124h1v1h-1zM564 124h1v1h-1zM498 125h1v1h-1zM509 125h1v1h-1zM513 125h1v1h-1zM543 125h1v1h-1zM552 125h1v1h-1zM560 125h1v1h-1zM564 125h1v1h-1zM498 126h1v1h-1zM509 126h1v1h-1zM512 126h1v1h-1zM543 126h1v1h-1zM552 126h1v1h-1zM561 126h1v1h-1zM564 126h1v1h-1zM234 127h1v1h-1zM423 127h1v1h-1zM498 127h1v1h-1zM510 127h1v1h-1zM512 127h1v1h-1zM543 127h1v1h-1zM551 127h1v1h-1zM561 127h1v1h-1zM564 127h1v1h-1zM233 128h1v1h-1zM235 128h2v1h-2zM423 128h1v1h-1zM497 128h1v1h-1zM510 128h1v1h-1zM512 128h1v1h-1zM543 128h1v1h-1zM551 128h1v1h-1zM561 128h1v1h-1zM564 128h1v1h-1zM232 129h1v1h-1zM236 129h1v1h-1zM422 129h2v1h-2zM497 129h1v1h-1zM510 129h1v1h-1zM512 129h1v1h-1zM543 129h1v1h-1zM551 129h1v1h-1zM562 129h1v1h-1zM564 129h1v1h-1zM232 130h1v1h-1zM236 130h1v1h-1zM422 130h1v1h-1zM424 130h1v1h-1zM497 130h1v1h-1zM510 130h2v1h-2zM544 130h1v1h-1zM551 130h1v1h-1zM562 130h2v1h-2zM232 131h1v1h-1zM237 131h1v1h-1zM421 131h1v1h-1zM424 131h1v1h-1zM497 131h1v1h-1zM511 131h1v1h-1zM544 131h1v1h-1zM550 131h1v1h-1zM563 131h1v1h-1zM229 132h1v1h-1zM232 132h1v1h-1zM237 132h1v1h-1zM421 132h1v1h-1zM424 132h1v1h-1zM484 132h1v1h-1zM493 132h1v1h-1zM496 132h1v1h-1zM511 132h1v1h-1zM544 132h1v1h-1zM549 132h1v1h-1zM563 132h1v1h-1zM229 133h1v1h-1zM232 133h1v1h-1zM237 133h1v1h-1zM421 133h1v1h-1zM424 133h1v1h-1zM484 133h2v1h-2zM493 133h1v1h-1zM496 133h1v1h-1zM544 133h1v1h-1zM548 133h1v1h-1zM228 134h2v1h-2zM231 134h1v1h-1zM237 134h1v1h-1zM421 134h1v1h-1zM424 134h1v1h-1zM483 134h1v1h-1zM485 134h1v1h-1zM493 134h1v1h-1zM496 134h1v1h-1zM544 134h1v1h-1zM548 134h1v1h-1zM228 135h2v1h-2zM231 135h1v1h-1zM237 135h1v1h-1zM421 135h1v1h-1zM425 135h1v1h-1zM483 135h1v1h-1zM486 135h1v1h-1zM492 135h1v1h-1zM494 135h1v1h-1zM496 135h1v1h-1zM544 135h1v1h-1zM547 135h1v1h-1zM228 136h2v1h-2zM231 136h1v1h-1zM237 136h1v1h-1zM421 136h1v1h-1zM425 136h1v1h-1zM482 136h1v1h-1zM486 136h1v1h-1zM492 136h1v1h-1zM494 136h1v1h-1zM496 136h1v1h-1zM545 136h2v1h-2zM228 137h1v1h-1zM230 137h2v1h-2zM238 137h1v1h-1zM421 137h1v1h-1zM425 137h1v1h-1zM482 137h1v1h-1zM486 137h1v1h-1zM492 137h1v1h-1zM494 137h1v1h-1zM496 137h1v1h-1zM545 137h2v1h-2zM228 138h1v1h-1zM230 138h2v1h-2zM238 138h1v1h-1zM421 138h1v1h-1zM426 138h1v1h-1zM431 138h1v1h-1zM482 138h1v1h-1zM487 138h1v1h-1zM492 138h1v1h-1zM494 138h2v1h-2zM545 138h1v1h-1zM228 139h1v1h-1zM230 139h2v1h-2zM238 139h1v1h-1zM420 139h1v1h-1zM427 139h1v1h-1zM431 139h1v1h-1zM482 139h1v1h-1zM487 139h1v1h-1zM492 139h1v1h-1zM494 139h2v1h-2zM228 140h1v1h-1zM230 140h1v1h-1zM238 140h1v1h-1zM420 140h1v1h-1zM428 140h1v1h-1zM430 140h2v1h-2zM482 140h1v1h-1zM488 140h1v1h-1zM492 140h1v1h-1zM495 140h1v1h-1zM228 141h1v1h-1zM230 141h1v1h-1zM238 141h1v1h-1zM420 141h1v1h-1zM428 141h1v1h-1zM430 141h1v1h-1zM432 141h1v1h-1zM482 141h1v1h-1zM488 141h1v1h-1zM492 141h1v1h-1zM495 141h1v1h-1zM227 142h1v1h-1zM238 142h1v1h-1zM420 142h1v1h-1zM429 142h1v1h-1zM432 142h1v1h-1zM472 142h1v1h-1zM482 142h1v1h-1zM489 142h1v1h-1zM492 142h1v1h-1zM495 142h1v1h-1zM222 143h1v1h-1zM227 143h1v1h-1zM239 143h1v1h-1zM420 143h1v1h-1zM432 143h1v1h-1zM472 143h2v1h-2zM481 143h1v1h-1zM489 143h1v1h-1zM492 143h1v1h-1zM222 144h1v1h-1zM227 144h1v1h-1zM239 144h1v1h-1zM420 144h1v1h-1zM432 144h1v1h-1zM471 144h1v1h-1zM473 144h1v1h-1zM481 144h1v1h-1zM490 144h2v1h-2zM222 145h1v1h-1zM227 145h1v1h-1zM239 145h1v1h-1zM420 145h1v1h-1zM432 145h1v1h-1zM471 145h1v1h-1zM473 145h1v1h-1zM481 145h1v1h-1zM490 145h2v1h-2zM222 146h1v1h-1zM227 146h1v1h-1zM239 146h1v1h-1zM420 146h1v1h-1zM433 146h1v1h-1zM471 146h1v1h-1zM474 146h1v1h-1zM481 146h1v1h-1zM490 146h2v1h-2zM222 147h1v1h-1zM227 147h1v1h-1zM239 147h1v1h-1zM420 147h1v1h-1zM433 147h1v1h-1zM470 147h1v1h-1zM474 147h1v1h-1zM481 147h1v1h-1zM490 147h2v1h-2zM222 148h2v1h-2zM227 148h1v1h-1zM239 148h1v1h-1zM420 148h1v1h-1zM433 148h1v1h-1zM470 148h1v1h-1zM474 148h1v1h-1zM481 148h1v1h-1zM491 148h1v1h-1zM222 149h2v1h-2zM227 149h1v1h-1zM239 149h1v1h-1zM387 149h1v1h-1zM420 149h1v1h-1zM433 149h1v1h-1zM470 149h1v1h-1zM474 149h1v1h-1zM480 149h1v1h-1zM491 149h1v1h-1zM221 150h1v1h-1zM223 150h1v1h-1zM227 150h1v1h-1zM239 150h1v1h-1zM329 150h1v1h-1zM387 150h3v1h-3zM420 150h1v1h-1zM433 150h1v1h-1zM470 150h1v1h-1zM475 150h1v1h-1zM479 150h1v1h-1zM221 151h1v1h-1zM223 151h1v1h-1zM226 151h1v1h-1zM239 151h1v1h-1zM329 151h2v1h-2zM386 151h1v1h-1zM389 151h1v1h-1zM420 151h1v1h-1zM434 151h1v1h-1zM470 151h1v1h-1zM475 151h1v1h-1zM479 151h1v1h-1zM221 152h1v1h-1zM223 152h1v1h-1zM226 152h1v1h-1zM239 152h1v1h-1zM329 152h2v1h-2zM386 152h1v1h-1zM390 152h1v1h-1zM420 152h1v1h-1zM434 152h1v1h-1zM470 152h1v1h-1zM475 152h1v1h-1zM479 152h1v1h-1zM221 153h1v1h-1zM223 153h1v1h-1zM226 153h1v1h-1zM239 153h1v1h-1zM329 153h2v1h-2zM385 153h1v1h-1zM390 153h1v1h-1zM419 153h1v1h-1zM434 153h1v1h-1zM470 153h1v1h-1zM475 153h1v1h-1zM478 153h1v1h-1zM221 154h1v1h-1zM224 154h1v1h-1zM226 154h1v1h-1zM240 154h1v1h-1zM323 154h1v1h-1zM328 154h1v1h-1zM330 154h1v1h-1zM385 154h1v1h-1zM391 154h1v1h-1zM395 154h1v1h-1zM419 154h1v1h-1zM434 154h1v1h-1zM469 154h1v1h-1zM476 154h1v1h-1zM478 154h1v1h-1zM221 155h1v1h-1zM224 155h1v1h-1zM226 155h1v1h-1zM240 155h1v1h-1zM323 155h1v1h-1zM328 155h1v1h-1zM330 155h1v1h-1zM385 155h1v1h-1zM391 155h1v1h-1zM395 155h1v1h-1zM419 155h1v1h-1zM434 155h1v1h-1zM469 155h1v1h-1zM476 155h1v1h-1zM478 155h1v1h-1zM221 156h1v1h-1zM224 156h1v1h-1zM226 156h1v1h-1zM240 156h1v1h-1zM322 156h2v1h-2zM328 156h1v1h-1zM330 156h1v1h-1zM385 156h1v1h-1zM391 156h1v1h-1zM395 156h1v1h-1zM419 156h1v1h-1zM435 156h1v1h-1zM469 156h1v1h-1zM476 156h1v1h-1zM478 156h1v1h-1zM221 157h1v1h-1zM224 157h2v1h-2zM240 157h1v1h-1zM322 157h1v1h-1zM324 157h1v1h-1zM328 157h1v1h-1zM331 157h1v1h-1zM385 157h1v1h-1zM391 157h1v1h-1zM395 157h1v1h-1zM419 157h1v1h-1zM435 157h1v1h-1zM469 157h1v1h-1zM477 157h1v1h-1zM221 158h1v1h-1zM225 158h1v1h-1zM240 158h1v1h-1zM321 158h1v1h-1zM324 158h1v1h-1zM328 158h1v1h-1zM331 158h1v1h-1zM384 158h1v1h-1zM391 158h1v1h-1zM394 158h2v1h-2zM419 158h1v1h-1zM435 158h1v1h-1zM469 158h1v1h-1zM477 158h1v1h-1zM213 159h1v1h-1zM221 159h1v1h-1zM225 159h1v1h-1zM240 159h1v1h-1zM321 159h1v1h-1zM324 159h1v1h-1zM328 159h1v1h-1zM331 159h1v1h-1zM384 159h1v1h-1zM392 159h1v1h-1zM394 159h2v1h-2zM413 159h7v1h-7zM435 159h1v1h-1zM450 159h1v1h-1zM460 159h4v1h-4zM469 159h1v1h-1zM213 160h1v1h-1zM221 160h1v1h-1zM240 160h1v1h-1zM321 160h1v1h-1zM324 160h1v1h-1zM327 160h1v1h-1zM331 160h1v1h-1zM339 160h1v1h-1zM384 160h1v1h-1zM392 160h1v1h-1zM394 160h2v1h-2zM413 160h1v1h-1zM436 160h1v1h-1zM450 160h3v1h-3zM459 160h1v1h-1zM463 160h1v1h-1zM468 160h1v1h-1zM212 161h2v1h-2zM221 161h1v1h-1zM240 161h1v1h-1zM321 161h1v1h-1zM324 161h1v1h-1zM327 161h1v1h-1zM331 161h1v1h-1zM339 161h1v1h-1zM384 161h1v1h-1zM392 161h1v1h-1zM394 161h1v1h-1zM396 161h1v1h-1zM413 161h1v1h-1zM436 161h1v1h-1zM449 161h1v1h-1zM452 161h1v1h-1zM459 161h1v1h-1zM464 161h1v1h-1zM468 161h1v1h-1zM212 162h2v1h-2zM221 162h1v1h-1zM240 162h1v1h-1zM321 162h1v1h-1zM324 162h1v1h-1zM327 162h1v1h-1zM331 162h1v1h-1zM338 162h2v1h-2zM384 162h1v1h-1zM392 162h1v1h-1zM394 162h1v1h-1zM396 162h1v1h-1zM412 162h1v1h-1zM436 162h1v1h-1zM449 162h1v1h-1zM453 162h1v1h-1zM459 162h1v1h-1zM464 162h1v1h-1zM468 162h1v1h-1zM211 163h1v1h-1zM214 163h1v1h-1zM221 163h1v1h-1zM240 163h1v1h-1zM320 163h1v1h-1zM324 163h1v1h-1zM327 163h1v1h-1zM331 163h1v1h-1zM338 163h2v1h-2zM384 163h1v1h-1zM392 163h1v1h-1zM394 163h1v1h-1zM396 163h1v1h-1zM412 163h1v1h-1zM436 163h1v1h-1zM448 163h1v1h-1zM453 163h1v1h-1zM459 163h1v1h-1zM465 163h1v1h-1zM467 163h1v1h-1zM211 164h1v1h-1zM214 164h1v1h-1zM221 164h1v1h-1zM241 164h1v1h-1zM312 164h1v1h-1zM320 164h1v1h-1zM324 164h1v1h-1zM327 164h1v1h-1zM331 164h1v1h-1zM338 164h2v1h-2zM384 164h1v1h-1zM392 164h1v1h-1zM394 164h1v1h-1zM396 164h1v1h-1zM412 164h1v1h-1zM437 164h1v1h-1zM448 164h1v1h-1zM453 164h1v1h-1zM458 164h1v1h-1zM465 164h3v1h-3zM211 165h1v1h-1zM214 165h1v1h-1zM220 165h1v1h-1zM241 165h1v1h-1zM311 165h1v1h-1zM313 165h1v1h-1zM320 165h1v1h-1zM325 165h2v1h-2zM331 165h1v1h-1zM338 165h2v1h-2zM384 165h1v1h-1zM392 165h1v1h-1zM394 165h1v1h-1zM396 165h1v1h-1zM398 165h1v1h-1zM412 165h1v1h-1zM437 165h1v1h-1zM448 165h1v1h-1zM454 165h1v1h-1zM458 165h1v1h-1zM211 166h1v1h-1zM214 166h1v1h-1zM220 166h1v1h-1zM241 166h1v1h-1zM310 166h1v1h-1zM313 166h1v1h-1zM320 166h1v1h-1zM325 166h2v1h-2zM332 166h1v1h-1zM337 166h1v1h-1zM339 166h1v1h-1zM384 166h1v1h-1zM392 166h1v1h-1zM394 166h1v1h-1zM397 166h3v1h-3zM412 166h1v1h-1zM438 166h1v1h-1zM448 166h1v1h-1zM455 166h1v1h-1zM458 166h1v1h-1zM211 167h1v1h-1zM214 167h1v1h-1zM220 167h1v1h-1zM241 167h1v1h-1zM310 167h1v1h-1zM313 167h1v1h-1zM320 167h1v1h-1zM325 167h2v1h-2zM332 167h1v1h-1zM337 167h1v1h-1zM339 167h1v1h-1zM384 167h1v1h-1zM392 167h1v1h-1zM394 167h1v1h-1zM397 167h1v1h-1zM399 167h1v1h-1zM411 167h1v1h-1zM439 167h1v1h-1zM448 167h1v1h-1zM455 167h1v1h-1zM458 167h1v1h-1zM211 168h1v1h-1zM214 168h1v1h-1zM220 168h1v1h-1zM242 168h1v1h-1zM310 168h1v1h-1zM314 168h1v1h-1zM320 168h1v1h-1zM325 168h2v1h-2zM332 168h1v1h-1zM337 168h1v1h-1zM339 168h1v1h-1zM384 168h1v1h-1zM392 168h1v1h-1zM394 168h1v1h-1zM397 168h1v1h-1zM399 168h1v1h-1zM411 168h1v1h-1zM439 168h1v1h-1zM448 168h1v1h-1zM456 168h1v1h-1zM458 168h1v1h-1zM211 169h1v1h-1zM214 169h1v1h-1zM220 169h1v1h-1zM242 169h1v1h-1zM310 169h1v1h-1zM314 169h1v1h-1zM320 169h1v1h-1zM325 169h1v1h-1zM332 169h1v1h-1zM337 169h1v1h-1zM339 169h1v1h-1zM384 169h1v1h-1zM393 169h2v1h-2zM399 169h1v1h-1zM410 169h2v1h-2zM440 169h1v1h-1zM448 169h1v1h-1zM456 169h1v1h-1zM458 169h1v1h-1zM211 170h1v1h-1zM214 170h1v1h-1zM220 170h1v1h-1zM242 170h1v1h-1zM247 170h1v1h-1zM309 170h1v1h-1zM314 170h1v1h-1zM320 170h1v1h-1zM325 170h1v1h-1zM332 170h1v1h-1zM337 170h1v1h-1zM339 170h1v1h-1zM383 170h1v1h-1zM393 170h2v1h-2zM399 170h1v1h-1zM409 170h1v1h-1zM440 170h1v1h-1zM448 170h1v1h-1zM456 170h1v1h-1zM458 170h1v1h-1zM211 171h1v1h-1zM214 171h1v1h-1zM220 171h1v1h-1zM243 171h1v1h-1zM247 171h1v1h-1zM309 171h1v1h-1zM314 171h1v1h-1zM320 171h1v1h-1zM332 171h1v1h-1zM337 171h1v1h-1zM339 171h1v1h-1zM383 171h1v1h-1zM393 171h2v1h-2zM399 171h1v1h-1zM409 171h1v1h-1zM440 171h1v1h-1zM448 171h1v1h-1zM456 171h2v1h-2zM210 172h1v1h-1zM214 172h1v1h-1zM220 172h1v1h-1zM243 172h1v1h-1zM247 172h1v1h-1zM309 172h1v1h-1zM315 172h1v1h-1zM319 172h1v1h-1zM332 172h1v1h-1zM337 172h1v1h-1zM339 172h1v1h-1zM383 172h1v1h-1zM393 172h1v1h-1zM400 172h1v1h-1zM409 172h1v1h-1zM441 172h1v1h-1zM448 172h1v1h-1zM457 172h1v1h-1zM210 173h1v1h-1zM214 173h1v1h-1zM220 173h1v1h-1zM243 173h1v1h-1zM246 173h2v1h-2zM309 173h1v1h-1zM315 173h1v1h-1zM319 173h1v1h-1zM332 173h1v1h-1zM337 173h1v1h-1zM339 173h1v1h-1zM383 173h1v1h-1zM393 173h1v1h-1zM400 173h1v1h-1zM409 173h1v1h-1zM441 173h1v1h-1zM447 173h1v1h-1zM457 173h1v1h-1zM210 174h1v1h-1zM214 174h1v1h-1zM220 174h1v1h-1zM244 174h1v1h-1zM246 174h1v1h-1zM248 174h1v1h-1zM309 174h1v1h-1zM315 174h1v1h-1zM319 174h1v1h-1zM333 174h1v1h-1zM336 174h1v1h-1zM340 174h1v1h-1zM383 174h1v1h-1zM393 174h1v1h-1zM400 174h1v1h-1zM409 174h1v1h-1zM441 174h1v1h-1zM447 174h1v1h-1zM457 174h1v1h-1zM210 175h1v1h-1zM214 175h1v1h-1zM220 175h1v1h-1zM244 175h1v1h-1zM246 175h1v1h-1zM248 175h1v1h-1zM255 175h1v1h-1zM309 175h1v1h-1zM315 175h1v1h-1zM319 175h1v1h-1zM333 175h1v1h-1zM336 175h1v1h-1zM340 175h1v1h-1zM383 175h1v1h-1zM393 175h1v1h-1zM400 175h1v1h-1zM409 175h1v1h-1zM442 175h1v1h-1zM445 175h1v1h-1zM447 175h1v1h-1zM210 176h1v1h-1zM215 176h1v1h-1zM220 176h1v1h-1zM244 176h1v1h-1zM246 176h1v1h-1zM248 176h1v1h-1zM255 176h1v1h-1zM309 176h1v1h-1zM315 176h1v1h-1zM319 176h1v1h-1zM333 176h1v1h-1zM336 176h1v1h-1zM340 176h1v1h-1zM383 176h1v1h-1zM393 176h1v1h-1zM400 176h1v1h-1zM408 176h1v1h-1zM442 176h1v1h-1zM445 176h1v1h-1zM447 176h1v1h-1zM210 177h1v1h-1zM215 177h1v1h-1zM220 177h1v1h-1zM244 177h1v1h-1zM246 177h1v1h-1zM248 177h1v1h-1zM255 177h1v1h-1zM308 177h1v1h-1zM315 177h1v1h-1zM319 177h1v1h-1zM333 177h1v1h-1zM336 177h1v1h-1zM340 177h1v1h-1zM383 177h1v1h-1zM393 177h1v1h-1zM400 177h1v1h-1zM408 177h1v1h-1zM442 177h1v1h-1zM444 177h1v1h-1zM446 177h2v1h-2zM210 178h1v1h-1zM215 178h1v1h-1zM220 178h1v1h-1zM245 178h1v1h-1zM248 178h1v1h-1zM255 178h1v1h-1zM308 178h1v1h-1zM315 178h1v1h-1zM319 178h1v1h-1zM333 178h1v1h-1zM336 178h1v1h-1zM340 178h1v1h-1zM383 178h1v1h-1zM393 178h1v1h-1zM400 178h1v1h-1zM408 178h1v1h-1zM442 178h1v1h-1zM444 178h1v1h-1zM446 178h2v1h-2zM210 179h1v1h-1zM215 179h1v1h-1zM220 179h1v1h-1zM245 179h1v1h-1zM248 179h1v1h-1zM255 179h1v1h-1zM308 179h1v1h-1zM316 179h1v1h-1zM319 179h1v1h-1zM333 179h1v1h-1zM336 179h1v1h-1zM340 179h1v1h-1zM383 179h1v1h-1zM393 179h1v1h-1zM400 179h1v1h-1zM408 179h1v1h-1zM443 179h1v1h-1zM447 179h1v1h-1zM210 180h1v1h-1zM215 180h1v1h-1zM220 180h1v1h-1zM245 180h1v1h-1zM248 180h1v1h-1zM254 180h2v1h-2zM308 180h1v1h-1zM316 180h1v1h-1zM319 180h1v1h-1zM333 180h1v1h-1zM336 180h1v1h-1zM340 180h1v1h-1zM383 180h1v1h-1zM393 180h1v1h-1zM400 180h1v1h-1zM408 180h1v1h-1zM443 180h1v1h-1zM447 180h1v1h-1zM210 181h1v1h-1zM215 181h1v1h-1zM220 181h1v1h-1zM249 181h1v1h-1zM254 181h1v1h-1zM256 181h1v1h-1zM308 181h1v1h-1zM316 181h1v1h-1zM318 181h1v1h-1zM333 181h1v1h-1zM336 181h1v1h-1zM340 181h1v1h-1zM383 181h1v1h-1zM393 181h1v1h-1zM400 181h1v1h-1zM408 181h1v1h-1zM210 182h1v1h-1zM215 182h1v1h-1zM220 182h1v1h-1zM249 182h1v1h-1zM254 182h1v1h-1zM256 182h1v1h-1zM308 182h1v1h-1zM316 182h1v1h-1zM318 182h1v1h-1zM334 182h1v1h-1zM336 182h1v1h-1zM340 182h1v1h-1zM383 182h1v1h-1zM400 182h1v1h-1zM408 182h1v1h-1zM210 183h1v1h-1zM215 183h1v1h-1zM219 183h1v1h-1zM249 183h1v1h-1zM254 183h1v1h-1zM256 183h1v1h-1zM308 183h1v1h-1zM316 183h1v1h-1zM318 183h1v1h-1zM334 183h1v1h-1zM336 183h1v1h-1zM340 183h1v1h-1zM383 183h1v1h-1zM400 183h1v1h-1zM407 183h1v1h-1zM210 184h1v1h-1zM215 184h1v1h-1zM219 184h1v1h-1zM249 184h1v1h-1zM254 184h1v1h-1zM256 184h1v1h-1zM308 184h1v1h-1zM316 184h1v1h-1zM318 184h1v1h-1zM334 184h1v1h-1zM336 184h1v1h-1zM340 184h1v1h-1zM383 184h1v1h-1zM400 184h1v1h-1zM407 184h1v1h-1zM210 185h1v1h-1zM215 185h1v1h-1zM219 185h1v1h-1zM250 185h1v1h-1zM254 185h1v1h-1zM256 185h1v1h-1zM308 185h1v1h-1zM317 185h2v1h-2zM334 185h1v1h-1zM336 185h1v1h-1zM341 185h2v1h-2zM383 185h1v1h-1zM400 185h1v1h-1zM407 185h1v1h-1zM210 186h1v1h-1zM215 186h1v1h-1zM219 186h1v1h-1zM250 186h1v1h-1zM254 186h1v1h-1zM256 186h1v1h-1zM308 186h1v1h-1zM317 186h1v1h-1zM334 186h1v1h-1zM336 186h1v1h-1zM341 186h2v1h-2zM383 186h1v1h-1zM400 186h1v1h-1zM407 186h1v1h-1zM210 187h1v1h-1zM216 187h1v1h-1zM219 187h1v1h-1zM250 187h1v1h-1zM254 187h1v1h-1zM256 187h1v1h-1zM307 187h1v1h-1zM334 187h1v1h-1zM336 187h1v1h-1zM341 187h1v1h-1zM343 187h1v1h-1zM383 187h1v1h-1zM400 187h1v1h-1zM407 187h1v1h-1zM210 188h1v1h-1zM216 188h1v1h-1zM219 188h1v1h-1zM250 188h1v1h-1zM253 188h1v1h-1zM256 188h1v1h-1zM307 188h1v1h-1zM334 188h1v1h-1zM336 188h1v1h-1zM341 188h1v1h-1zM343 188h1v1h-1zM383 188h1v1h-1zM400 188h1v1h-1zM407 188h1v1h-1zM210 189h1v1h-1zM216 189h1v1h-1zM219 189h1v1h-1zM251 189h1v1h-1zM253 189h1v1h-1zM256 189h1v1h-1zM307 189h1v1h-1zM334 189h1v1h-1zM336 189h1v1h-1zM343 189h1v1h-1zM383 189h1v1h-1zM400 189h1v1h-1zM407 189h1v1h-1zM210 190h1v1h-1zM217 190h1v1h-1zM219 190h1v1h-1zM251 190h1v1h-1zM253 190h1v1h-1zM256 190h1v1h-1zM307 190h1v1h-1zM335 190h2v1h-2zM344 190h1v1h-1zM383 190h1v1h-1zM400 190h1v1h-1zM407 190h1v1h-1zM210 191h1v1h-1zM217 191h3v1h-3zM251 191h3v1h-3zM256 191h1v1h-1zM307 191h1v1h-1zM335 191h2v1h-2zM344 191h1v1h-1zM383 191h1v1h-1zM400 191h1v1h-1zM406 191h1v1h-1zM210 192h1v1h-1zM256 192h1v1h-1zM307 192h1v1h-1zM335 192h1v1h-1zM344 192h1v1h-1zM382 192h1v1h-1zM400 192h1v1h-1zM406 192h1v1h-1zM210 193h1v1h-1zM256 193h1v1h-1zM307 193h1v1h-1zM335 193h1v1h-1zM344 193h1v1h-1zM382 193h1v1h-1zM400 193h1v1h-1zM406 193h1v1h-1zM210 194h1v1h-1zM256 194h1v1h-1zM306 194h1v1h-1zM335 194h1v1h-1zM345 194h1v1h-1zM382 194h1v1h-1zM400 194h1v1h-1zM406 194h1v1h-1zM210 195h1v1h-1zM256 195h1v1h-1zM306 195h1v1h-1zM335 195h1v1h-1zM345 195h1v1h-1zM382 195h1v1h-1zM400 195h1v1h-1zM406 195h1v1h-1zM210 196h1v1h-1zM256 196h1v1h-1zM306 196h1v1h-1zM335 196h1v1h-1zM345 196h1v1h-1zM382 196h1v1h-1zM401 196h1v1h-1zM405 196h1v1h-1zM210 197h1v1h-1zM256 197h1v1h-1zM306 197h1v1h-1zM335 197h1v1h-1zM345 197h1v1h-1zM382 197h1v1h-1zM401 197h1v1h-1zM403 197h1v1h-1zM405 197h1v1h-1zM209 198h1v1h-1zM256 198h1v1h-1zM304 198h2v1h-2zM335 198h1v1h-1zM345 198h1v1h-1zM382 198h1v1h-1zM401 198h1v1h-1zM403 198h1v1h-1zM405 198h1v1h-1zM209 199h1v1h-1zM256 199h1v1h-1zM304 199h2v1h-2zM335 199h1v1h-1zM345 199h1v1h-1zM382 199h1v1h-1zM401 199h2v1h-2zM404 199h1v1h-1zM209 200h1v1h-1zM257 200h1v1h-1zM303 200h1v1h-1zM305 200h1v1h-1zM335 200h1v1h-1zM345 200h1v1h-1zM382 200h1v1h-1zM401 200h2v1h-2zM404 200h1v1h-1zM209 201h1v1h-1zM257 201h1v1h-1zM303 201h1v1h-1zM335 201h1v1h-1zM345 201h1v1h-1zM382 201h1v1h-1zM401 201h1v1h-1zM209 202h1v1h-1zM257 202h1v1h-1zM303 202h1v1h-1zM335 202h1v1h-1zM346 202h1v1h-1zM382 202h1v1h-1zM209 203h1v1h-1zM257 203h1v1h-1zM303 203h1v1h-1zM346 203h1v1h-1zM382 203h1v1h-1zM209 204h1v1h-1zM257 204h1v1h-1zM303 204h1v1h-1zM346 204h1v1h-1zM382 204h1v1h-1zM209 205h1v1h-1zM257 205h1v1h-1zM302 205h1v1h-1zM346 205h1v1h-1zM382 205h1v1h-1zM209 206h1v1h-1zM257 206h1v1h-1zM302 206h1v1h-1zM346 206h1v1h-1zM382 206h1v1h-1zM209 207h1v1h-1zM257 207h1v1h-1zM302 207h1v1h-1zM346 207h1v1h-1zM382 207h1v1h-1zM209 208h1v1h-1zM257 208h1v1h-1zM302 208h1v1h-1zM346 208h1v1h-1zM373 208h1v1h-1zM382 208h1v1h-1zM209 209h1v1h-1zM257 209h1v1h-1zM302 209h1v1h-1zM346 209h1v1h-1zM373 209h1v1h-1zM382 209h1v1h-1zM209 210h1v1h-1zM257 210h1v1h-1zM302 210h1v1h-1zM346 210h1v1h-1zM373 210h2v1h-2zM382 210h1v1h-1zM209 211h1v1h-1zM257 211h1v1h-1zM301 211h1v1h-1zM346 211h1v1h-1zM373 211h2v1h-2zM382 211h1v1h-1zM209 212h1v1h-1zM257 212h1v1h-1zM301 212h1v1h-1zM346 212h1v1h-1zM372 212h1v1h-1zM374 212h1v1h-1zM382 212h1v1h-1zM209 213h1v1h-1zM257 213h1v1h-1zM301 213h1v1h-1zM346 213h1v1h-1zM372 213h1v1h-1zM374 213h1v1h-1zM381 213h1v1h-1zM209 214h1v1h-1zM257 214h1v1h-1zM301 214h1v1h-1zM346 214h1v1h-1zM372 214h1v1h-1zM375 214h1v1h-1zM381 214h1v1h-1zM209 215h1v1h-1zM258 215h1v1h-1zM301 215h1v1h-1zM346 215h1v1h-1zM372 215h1v1h-1zM375 215h1v1h-1zM381 215h1v1h-1zM209 216h1v1h-1zM258 216h1v1h-1zM301 216h1v1h-1zM346 216h1v1h-1zM372 216h1v1h-1zM375 216h1v1h-1zM381 216h1v1h-1zM209 217h1v1h-1zM258 217h1v1h-1zM300 217h1v1h-1zM347 217h1v1h-1zM372 217h1v1h-1zM375 217h1v1h-1zM381 217h1v1h-1zM209 218h1v1h-1zM258 218h1v1h-1zM300 218h1v1h-1zM347 218h1v1h-1zM367 218h1v1h-1zM372 218h1v1h-1zM375 218h1v1h-1zM381 218h1v1h-1zM209 219h1v1h-1zM259 219h1v1h-1zM269 219h1v1h-1zM300 219h1v1h-1zM347 219h1v1h-1zM367 219h1v1h-1zM372 219h1v1h-1zM375 219h1v1h-1zM381 219h1v1h-1zM209 220h1v1h-1zM259 220h1v1h-1zM269 220h2v1h-2zM300 220h1v1h-1zM347 220h1v1h-1zM366 220h2v1h-2zM371 220h1v1h-1zM375 220h1v1h-1zM381 220h1v1h-1zM208 221h1v1h-1zM259 221h1v1h-1zM268 221h1v1h-1zM270 221h1v1h-1zM300 221h1v1h-1zM347 221h1v1h-1zM366 221h1v1h-1zM368 221h1v1h-1zM371 221h1v1h-1zM375 221h1v1h-1zM381 221h1v1h-1zM208 222h1v1h-1zM259 222h1v1h-1zM268 222h1v1h-1zM271 222h1v1h-1zM300 222h1v1h-1zM347 222h1v1h-1zM366 222h1v1h-1zM368 222h1v1h-1zM371 222h1v1h-1zM375 222h1v1h-1zM381 222h1v1h-1zM208 223h1v1h-1zM259 223h1v1h-1zM268 223h1v1h-1zM271 223h1v1h-1zM300 223h1v1h-1zM347 223h1v1h-1zM366 223h1v1h-1zM368 223h1v1h-1zM370 223h2v1h-2zM376 223h1v1h-1zM381 223h1v1h-1zM153 224h1v1h-1zM208 224h1v1h-1zM259 224h1v1h-1zM267 224h1v1h-1zM272 224h2v1h-2zM299 224h1v1h-1zM347 224h1v1h-1zM365 224h1v1h-1zM368 224h2v1h-2zM376 224h1v1h-1zM381 224h1v1h-1zM153 225h1v1h-1zM208 225h1v1h-1zM259 225h1v1h-1zM267 225h1v1h-1zM273 225h1v1h-1zM299 225h1v1h-1zM347 225h1v1h-1zM365 225h1v1h-1zM376 225h1v1h-1zM381 225h1v1h-1zM153 226h1v1h-1zM208 226h1v1h-1zM260 226h1v1h-1zM267 226h1v1h-1zM273 226h1v1h-1zM299 226h1v1h-1zM347 226h1v1h-1zM365 226h1v1h-1zM376 226h1v1h-1zM381 226h1v1h-1zM152 227h2v1h-2zM208 227h1v1h-1zM260 227h1v1h-1zM266 227h1v1h-1zM273 227h1v1h-1zM299 227h1v1h-1zM347 227h1v1h-1zM349 227h1v1h-1zM365 227h1v1h-1zM376 227h1v1h-1zM381 227h1v1h-1zM152 228h1v1h-1zM154 228h1v1h-1zM208 228h1v1h-1zM260 228h1v1h-1zM266 228h1v1h-1zM273 228h1v1h-1zM299 228h1v1h-1zM347 228h1v1h-1zM349 228h1v1h-1zM365 228h1v1h-1zM376 228h1v1h-1zM380 228h1v1h-1zM147 229h2v1h-2zM152 229h1v1h-1zM154 229h1v1h-1zM181 229h1v1h-1zM205 229h1v1h-1zM208 229h1v1h-1zM260 229h1v1h-1zM266 229h1v1h-1zM273 229h1v1h-1zM299 229h1v1h-1zM347 229h1v1h-1zM349 229h1v1h-1zM365 229h1v1h-1zM376 229h1v1h-1zM380 229h1v1h-1zM146 230h1v1h-1zM149 230h1v1h-1zM152 230h1v1h-1zM154 230h1v1h-1zM181 230h1v1h-1zM205 230h1v1h-1zM208 230h1v1h-1zM260 230h1v1h-1zM265 230h1v1h-1zM273 230h1v1h-1zM299 230h1v1h-1zM348 230h2v1h-2zM364 230h1v1h-1zM376 230h1v1h-1zM380 230h1v1h-1zM146 231h1v1h-1zM150 231h2v1h-2zM154 231h1v1h-1zM180 231h1v1h-1zM182 231h1v1h-1zM205 231h1v1h-1zM208 231h1v1h-1zM260 231h1v1h-1zM265 231h1v1h-1zM273 231h1v1h-1zM298 231h1v1h-1zM348 231h2v1h-2zM364 231h1v1h-1zM376 231h1v1h-1zM380 231h1v1h-1zM145 232h1v1h-1zM150 232h2v1h-2zM154 232h1v1h-1zM180 232h1v1h-1zM182 232h1v1h-1zM204 232h1v1h-1zM206 232h1v1h-1zM208 232h1v1h-1zM260 232h1v1h-1zM265 232h1v1h-1zM274 232h1v1h-1zM298 232h1v1h-1zM348 232h2v1h-2zM364 232h1v1h-1zM376 232h1v1h-1zM380 232h1v1h-1zM145 233h1v1h-1zM151 233h1v1h-1zM155 233h1v1h-1zM179 233h1v1h-1zM183 233h1v1h-1zM204 233h1v1h-1zM206 233h2v1h-2zM261 233h1v1h-1zM264 233h1v1h-1zM274 233h1v1h-1zM298 233h1v1h-1zM348 233h2v1h-2zM364 233h1v1h-1zM376 233h1v1h-1zM380 233h1v1h-1zM144 234h1v1h-1zM155 234h1v1h-1zM165 234h1v1h-1zM169 234h1v1h-1zM179 234h1v1h-1zM183 234h1v1h-1zM204 234h1v1h-1zM206 234h2v1h-2zM261 234h4v1h-4zM274 234h1v1h-1zM298 234h1v1h-1zM348 234h2v1h-2zM364 234h1v1h-1zM376 234h1v1h-1zM380 234h1v1h-1zM144 235h1v1h-1zM156 235h1v1h-1zM165 235h1v1h-1zM169 235h1v1h-1zM178 235h1v1h-1zM183 235h1v1h-1zM204 235h1v1h-1zM206 235h2v1h-2zM274 235h1v1h-1zM298 235h1v1h-1zM350 235h1v1h-1zM364 235h1v1h-1zM377 235h1v1h-1zM380 235h1v1h-1zM143 236h1v1h-1zM156 236h1v1h-1zM165 236h2v1h-2zM169 236h2v1h-2zM178 236h1v1h-1zM183 236h1v1h-1zM203 236h1v1h-1zM206 236h2v1h-2zM274 236h1v1h-1zM294 236h1v1h-1zM297 236h1v1h-1zM350 236h1v1h-1zM363 236h1v1h-1zM377 236h1v1h-1zM380 236h1v1h-1zM143 237h1v1h-1zM156 237h1v1h-1zM165 237h2v1h-2zM168 237h1v1h-1zM170 237h1v1h-1zM178 237h1v1h-1zM184 237h1v1h-1zM203 237h1v1h-1zM207 237h1v1h-1zM274 237h1v1h-1zM294 237h2v1h-2zM297 237h1v1h-1zM350 237h1v1h-1zM363 237h1v1h-1zM377 237h1v1h-1zM380 237h1v1h-1zM142 238h1v1h-1zM157 238h1v1h-1zM165 238h2v1h-2zM168 238h1v1h-1zM170 238h1v1h-1zM177 238h1v1h-1zM184 238h1v1h-1zM203 238h1v1h-1zM207 238h1v1h-1zM274 238h1v1h-1zM294 238h3v1h-3zM350 238h1v1h-1zM363 238h1v1h-1zM377 238h1v1h-1zM379 238h1v1h-1zM142 239h1v1h-1zM157 239h1v1h-1zM164 239h1v1h-1zM166 239h1v1h-1zM168 239h1v1h-1zM171 239h1v1h-1zM176 239h2v1h-2zM184 239h1v1h-1zM203 239h1v1h-1zM207 239h1v1h-1zM274 239h1v1h-1zM294 239h1v1h-1zM296 239h1v1h-1zM350 239h1v1h-1zM363 239h1v1h-1zM377 239h1v1h-1zM379 239h1v1h-1zM129 240h1v1h-1zM142 240h1v1h-1zM157 240h1v1h-1zM164 240h1v1h-1zM167 240h2v1h-2zM171 240h1v1h-1zM175 240h1v1h-1zM184 240h1v1h-1zM203 240h1v1h-1zM274 240h1v1h-1zM294 240h1v1h-1zM350 240h1v1h-1zM363 240h1v1h-1zM377 240h1v1h-1zM379 240h1v1h-1zM129 241h1v1h-1zM141 241h1v1h-1zM157 241h1v1h-1zM164 241h1v1h-1zM167 241h1v1h-1zM171 241h1v1h-1zM175 241h1v1h-1zM184 241h1v1h-1zM203 241h1v1h-1zM274 241h1v1h-1zM294 241h1v1h-1zM350 241h1v1h-1zM362 241h1v1h-1zM377 241h1v1h-1zM379 241h1v1h-1zM129 242h1v1h-1zM141 242h1v1h-1zM157 242h1v1h-1zM164 242h1v1h-1zM167 242h1v1h-1zM171 242h1v1h-1zM175 242h1v1h-1zM185 242h1v1h-1zM202 242h1v1h-1zM274 242h1v1h-1zM294 242h1v1h-1zM350 242h1v1h-1zM362 242h1v1h-1zM377 242h1v1h-1zM379 242h1v1h-1zM128 243h2v1h-2zM141 243h1v1h-1zM157 243h1v1h-1zM163 243h1v1h-1zM172 243h1v1h-1zM175 243h1v1h-1zM185 243h1v1h-1zM202 243h1v1h-1zM274 243h1v1h-1zM293 243h1v1h-1zM350 243h1v1h-1zM362 243h1v1h-1zM378 243h1v1h-1zM128 244h2v1h-2zM133 244h1v1h-1zM141 244h1v1h-1zM157 244h1v1h-1zM163 244h1v1h-1zM172 244h1v1h-1zM174 244h1v1h-1zM185 244h2v1h-2zM202 244h1v1h-1zM274 244h1v1h-1zM293 244h1v1h-1zM350 244h1v1h-1zM361 244h1v1h-1zM378 244h1v1h-1zM128 245h2v1h-2zM133 245h1v1h-1zM135 245h1v1h-1zM140 245h1v1h-1zM157 245h1v1h-1zM161 245h3v1h-3zM172 245h1v1h-1zM174 245h1v1h-1zM187 245h3v1h-3zM202 245h1v1h-1zM275 245h1v1h-1zM293 245h1v1h-1zM350 245h1v1h-1zM360 245h1v1h-1zM378 245h1v1h-1zM128 246h1v1h-1zM130 246h1v1h-1zM133 246h1v1h-1zM135 246h1v1h-1zM140 246h1v1h-1zM157 246h1v1h-1zM161 246h1v1h-1zM172 246h1v1h-1zM174 246h1v1h-1zM189 246h1v1h-1zM202 246h1v1h-1zM275 246h1v1h-1zM293 246h1v1h-1zM350 246h1v1h-1zM359 246h1v1h-1zM127 247h1v1h-1zM130 247h1v1h-1zM133 247h1v1h-1zM135 247h1v1h-1zM140 247h1v1h-1zM157 247h1v1h-1zM161 247h1v1h-1zM172 247h1v1h-1zM174 247h1v1h-1zM189 247h1v1h-1zM202 247h1v1h-1zM275 247h1v1h-1zM293 247h1v1h-1zM350 247h1v1h-1zM359 247h1v1h-1zM127 248h1v1h-1zM130 248h1v1h-1zM133 248h4v1h-4zM139 248h1v1h-1zM157 248h1v1h-1zM160 248h1v1h-1zM172 248h1v1h-1zM174 248h1v1h-1zM189 248h1v1h-1zM201 248h1v1h-1zM275 248h1v1h-1zM293 248h1v1h-1zM350 248h1v1h-1zM358 248h1v1h-1zM127 249h1v1h-1zM130 249h1v1h-1zM132 249h1v1h-1zM134 249h1v1h-1zM136 249h1v1h-1zM139 249h1v1h-1zM157 249h1v1h-1zM160 249h1v1h-1zM172 249h1v1h-1zM174 249h1v1h-1zM189 249h1v1h-1zM201 249h1v1h-1zM275 249h1v1h-1zM293 249h1v1h-1zM350 249h1v1h-1zM358 249h1v1h-1zM127 250h1v1h-1zM130 250h1v1h-1zM132 250h1v1h-1zM134 250h1v1h-1zM136 250h1v1h-1zM139 250h1v1h-1zM158 250h1v1h-1zM160 250h1v1h-1zM173 250h2v1h-2zM190 250h1v1h-1zM200 250h2v1h-2zM275 250h2v1h-2zM293 250h1v1h-1zM351 250h1v1h-1zM357 250h1v1h-1zM126 251h1v1h-1zM130 251h1v1h-1zM132 251h1v1h-1zM134 251h1v1h-1zM136 251h1v1h-1zM138 251h1v1h-1zM158 251h1v1h-1zM160 251h1v1h-1zM173 251h2v1h-2zM190 251h1v1h-1zM199 251h1v1h-1zM277 251h2v1h-2zM292 251h1v1h-1zM351 251h1v1h-1zM357 251h1v1h-1zM126 252h1v1h-1zM130 252h1v1h-1zM132 252h1v1h-1zM134 252h1v1h-1zM136 252h1v1h-1zM138 252h1v1h-1zM158 252h1v1h-1zM160 252h1v1h-1zM173 252h1v1h-1zM190 252h1v1h-1zM199 252h1v1h-1zM278 252h1v1h-1zM292 252h1v1h-1zM351 252h1v1h-1zM357 252h1v1h-1zM126 253h1v1h-1zM130 253h1v1h-1zM132 253h1v1h-1zM136 253h1v1h-1zM138 253h1v1h-1zM158 253h1v1h-1zM160 253h1v1h-1zM173 253h1v1h-1zM190 253h1v1h-1zM198 253h1v1h-1zM278 253h1v1h-1zM292 253h1v1h-1zM351 253h1v1h-1zM356 253h1v1h-1zM126 254h1v1h-1zM130 254h1v1h-1zM132 254h1v1h-1zM137 254h2v1h-2zM158 254h1v1h-1zM160 254h1v1h-1zM173 254h1v1h-1zM190 254h1v1h-1zM198 254h1v1h-1zM279 254h1v1h-1zM292 254h1v1h-1zM351 254h1v1h-1zM356 254h1v1h-1zM126 255h1v1h-1zM130 255h1v1h-1zM132 255h1v1h-1zM137 255h1v1h-1zM158 255h1v1h-1zM160 255h1v1h-1zM173 255h1v1h-1zM190 255h1v1h-1zM198 255h1v1h-1zM279 255h1v1h-1zM291 255h1v1h-1zM351 255h1v1h-1zM356 255h1v1h-1zM59 256h1v1h-1zM126 256h1v1h-1zM131 256h2v1h-2zM137 256h1v1h-1zM158 256h1v1h-1zM160 256h1v1h-1zM190 256h1v1h-1zM198 256h1v1h-1zM279 256h1v1h-1zM291 256h1v1h-1zM351 256h1v1h-1zM355 256h1v1h-1zM59 257h1v1h-1zM126 257h1v1h-1zM131 257h1v1h-1zM158 257h1v1h-1zM160 257h1v1h-1zM190 257h1v1h-1zM197 257h1v1h-1zM279 257h1v1h-1zM291 257h1v1h-1zM351 257h1v1h-1zM355 257h1v1h-1zM58 258h2v1h-2zM126 258h1v1h-1zM131 258h1v1h-1zM158 258h1v1h-1zM160 258h1v1h-1zM190 258h1v1h-1zM197 258h1v1h-1zM280 258h1v1h-1zM291 258h1v1h-1zM351 258h1v1h-1zM355 258h1v1h-1zM58 259h1v1h-1zM60 259h1v1h-1zM126 259h1v1h-1zM131 259h1v1h-1zM158 259h2v1h-2zM190 259h1v1h-1zM197 259h1v1h-1zM280 259h1v1h-1zM291 259h1v1h-1zM351 259h1v1h-1zM355 259h1v1h-1zM57 260h1v1h-1zM60 260h1v1h-1zM125 260h1v1h-1zM131 260h1v1h-1zM158 260h2v1h-2zM190 260h1v1h-1zM196 260h1v1h-1zM280 260h1v1h-1zM291 260h1v1h-1zM352 260h1v1h-1zM354 260h1v1h-1zM57 261h1v1h-1zM60 261h1v1h-1zM121 261h1v1h-1zM125 261h1v1h-1zM131 261h1v1h-1zM158 261h2v1h-2zM190 261h1v1h-1zM196 261h1v1h-1zM280 261h1v1h-1zM291 261h1v1h-1zM352 261h1v1h-1zM354 261h1v1h-1zM57 262h1v1h-1zM60 262h1v1h-1zM121 262h1v1h-1zM125 262h1v1h-1zM158 262h2v1h-2zM190 262h1v1h-1zM196 262h1v1h-1zM280 262h1v1h-1zM290 262h1v1h-1zM352 262h1v1h-1zM354 262h1v1h-1zM57 263h1v1h-1zM60 263h1v1h-1zM120 263h2v1h-2zM125 263h1v1h-1zM158 263h2v1h-2zM190 263h1v1h-1zM195 263h1v1h-1zM280 263h1v1h-1zM290 263h1v1h-1zM352 263h1v1h-1zM354 263h1v1h-1zM57 264h1v1h-1zM60 264h1v1h-1zM120 264h1v1h-1zM122 264h1v1h-1zM125 264h1v1h-1zM159 264h1v1h-1zM190 264h1v1h-1zM195 264h1v1h-1zM280 264h1v1h-1zM290 264h1v1h-1zM353 264h1v1h-1zM57 265h1v1h-1zM60 265h1v1h-1zM119 265h1v1h-1zM122 265h1v1h-1zM125 265h1v1h-1zM159 265h1v1h-1zM190 265h1v1h-1zM194 265h1v1h-1zM280 265h1v1h-1zM290 265h1v1h-1zM353 265h1v1h-1zM57 266h1v1h-1zM61 266h1v1h-1zM119 266h1v1h-1zM122 266h2v1h-2zM125 266h1v1h-1zM159 266h1v1h-1zM190 266h1v1h-1zM194 266h1v1h-1zM281 266h1v1h-1zM290 266h1v1h-1zM353 266h1v1h-1zM3 267h11v1h-11zM57 267h1v1h-1zM61 267h1v1h-1zM113 267h1v1h-1zM119 267h1v1h-1zM124 267h2v1h-2zM159 267h1v1h-1zM190 267h1v1h-1zM194 267h1v1h-1zM281 267h1v1h-1zM290 267h1v1h-1zM14 268h1v1h-1zM57 268h1v1h-1zM61 268h1v1h-1zM113 268h2v1h-2zM118 268h1v1h-1zM190 268h1v1h-1zM193 268h1v1h-1zM281 268h1v1h-1zM290 268h1v1h-1zM15 269h1v1h-1zM57 269h1v1h-1zM61 269h1v1h-1zM113 269h1v1h-1zM115 269h1v1h-1zM118 269h1v1h-1zM191 269h1v1h-1zM193 269h1v1h-1zM281 269h1v1h-1zM290 269h1v1h-1zM15 270h1v1h-1zM57 270h1v1h-1zM61 270h1v1h-1zM112 270h1v1h-1zM116 270h2v1h-2zM191 270h1v1h-1zM193 270h1v1h-1zM281 270h1v1h-1zM290 270h1v1h-1zM16 271h1v1h-1zM56 271h1v1h-1zM61 271h1v1h-1zM112 271h1v1h-1zM117 271h1v1h-1zM191 271h1v1h-1zM193 271h1v1h-1zM281 271h1v1h-1zM290 271h1v1h-1zM17 272h1v1h-1zM21 272h7v1h-7zM56 272h1v1h-1zM61 272h1v1h-1zM75 272h3v1h-3zM112 272h1v1h-1zM191 272h2v1h-2zM281 272h1v1h-1zM290 272h1v1h-1zM17 273h1v1h-1zM21 273h1v1h-1zM27 273h1v1h-1zM56 273h1v1h-1zM61 273h1v1h-1zM75 273h1v1h-1zM77 273h1v1h-1zM112 273h1v1h-1zM191 273h2v1h-2zM281 273h1v1h-1zM289 273h1v1h-1zM17 274h1v1h-1zM21 274h1v1h-1zM28 274h1v1h-1zM56 274h1v1h-1zM61 274h1v1h-1zM75 274h1v1h-1zM78 274h1v1h-1zM111 274h1v1h-1zM191 274h2v1h-2zM281 274h1v1h-1zM289 274h1v1h-1zM18 275h1v1h-1zM20 275h1v1h-1zM28 275h1v1h-1zM56 275h1v1h-1zM62 275h1v1h-1zM75 275h1v1h-1zM78 275h1v1h-1zM111 275h1v1h-1zM191 275h2v1h-2zM281 275h1v1h-1zM289 275h1v1h-1zM18 276h1v1h-1zM20 276h1v1h-1zM29 276h1v1h-1zM56 276h1v1h-1zM62 276h1v1h-1zM75 276h1v1h-1zM78 276h1v1h-1zM111 276h1v1h-1zM191 276h2v1h-2zM282 276h1v1h-1zM289 276h1v1h-1zM18 277h1v1h-1zM20 277h1v1h-1zM29 277h1v1h-1zM56 277h1v1h-1zM62 277h1v1h-1zM75 277h1v1h-1zM79 277h1v1h-1zM83 277h3v1h-3zM111 277h1v1h-1zM191 277h2v1h-2zM282 277h1v1h-1zM289 277h1v1h-1zM18 278h1v1h-1zM20 278h1v1h-1zM29 278h1v1h-1zM56 278h1v1h-1zM62 278h1v1h-1zM74 278h1v1h-1zM79 278h1v1h-1zM83 278h1v1h-1zM85 278h1v1h-1zM111 278h1v1h-1zM191 278h2v1h-2zM282 278h1v1h-1zM289 278h1v1h-1zM18 279h1v1h-1zM20 279h1v1h-1zM29 279h1v1h-1zM56 279h1v1h-1zM62 279h1v1h-1zM74 279h1v1h-1zM80 279h1v1h-1zM82 279h1v1h-1zM85 279h1v1h-1zM110 279h1v1h-1zM191 279h1v1h-1zM282 279h1v1h-1zM289 279h1v1h-1zM18 280h1v1h-1zM20 280h1v1h-1zM29 280h1v1h-1zM56 280h1v1h-1zM62 280h1v1h-1zM74 280h1v1h-1zM80 280h1v1h-1zM82 280h1v1h-1zM85 280h1v1h-1zM110 280h1v1h-1zM191 280h1v1h-1zM282 280h1v1h-1zM289 280h1v1h-1zM19 281h1v1h-1zM30 281h1v1h-1zM56 281h1v1h-1zM62 281h1v1h-1zM74 281h1v1h-1zM80 281h1v1h-1zM82 281h1v1h-1zM85 281h1v1h-1zM110 281h1v1h-1zM191 281h1v1h-1zM282 281h1v1h-1zM289 281h1v1h-1zM19 282h1v1h-1zM30 282h1v1h-1zM55 282h1v1h-1zM62 282h1v1h-1zM74 282h1v1h-1zM81 282h1v1h-1zM85 282h1v1h-1zM110 282h1v1h-1zM191 282h1v1h-1zM282 282h1v1h-1zM289 282h1v1h-1zM19 283h1v1h-1zM30 283h1v1h-1zM39 283h1v1h-1zM55 283h1v1h-1zM62 283h1v1h-1zM74 283h1v1h-1zM81 283h1v1h-1zM85 283h1v1h-1zM89 283h1v1h-1zM105 283h1v1h-1zM109 283h1v1h-1zM191 283h1v1h-1zM282 283h1v1h-1zM289 283h1v1h-1zM30 284h1v1h-1zM39 284h1v1h-1zM55 284h1v1h-1zM62 284h1v1h-1zM74 284h1v1h-1zM86 284h1v1h-1zM89 284h1v1h-1zM105 284h1v1h-1zM109 284h1v1h-1zM282 284h1v1h-1zM289 284h1v1h-1zM30 285h1v1h-1zM39 285h1v1h-1zM55 285h1v1h-1zM62 285h1v1h-1zM74 285h1v1h-1zM86 285h1v1h-1zM89 285h1v1h-1zM105 285h1v1h-1zM109 285h1v1h-1zM282 285h1v1h-1zM288 285h1v1h-1zM30 286h1v1h-1zM39 286h2v1h-2zM55 286h1v1h-1zM62 286h1v1h-1zM74 286h1v1h-1zM86 286h1v1h-1zM89 286h1v1h-1zM104 286h1v1h-1zM106 286h1v1h-1zM109 286h1v1h-1zM282 286h1v1h-1zM288 286h1v1h-1zM30 287h1v1h-1zM39 287h2v1h-2zM55 287h1v1h-1zM62 287h1v1h-1zM74 287h1v1h-1zM86 287h1v1h-1zM89 287h2v1h-2zM104 287h1v1h-1zM106 287h1v1h-1zM109 287h1v1h-1zM283 287h1v1h-1zM288 287h1v1h-1zM31 288h1v1h-1zM38 288h1v1h-1zM40 288h1v1h-1zM54 288h1v1h-1zM62 288h1v1h-1zM65 288h1v1h-1zM73 288h1v1h-1zM86 288h1v1h-1zM89 288h2v1h-2zM93 288h1v1h-1zM97 288h1v1h-1zM104 288h1v1h-1zM106 288h1v1h-1zM108 288h1v1h-1zM283 288h1v1h-1zM288 288h1v1h-1zM31 289h1v1h-1zM38 289h1v1h-1zM40 289h1v1h-1zM54 289h1v1h-1zM62 289h1v1h-1zM65 289h1v1h-1zM73 289h1v1h-1zM86 289h1v1h-1zM88 289h1v1h-1zM90 289h1v1h-1zM93 289h2v1h-2zM97 289h1v1h-1zM104 289h1v1h-1zM106 289h1v1h-1zM108 289h1v1h-1zM283 289h1v1h-1zM288 289h1v1h-1zM31 290h1v1h-1zM38 290h1v1h-1zM40 290h1v1h-1zM54 290h1v1h-1zM62 290h1v1h-1zM65 290h2v1h-2zM73 290h1v1h-1zM86 290h1v1h-1zM88 290h1v1h-1zM90 290h1v1h-1zM93 290h2v1h-2zM96 290h1v1h-1zM98 290h1v1h-1zM104 290h1v1h-1zM106 290h1v1h-1zM108 290h1v1h-1zM283 290h1v1h-1zM288 290h1v1h-1zM31 291h1v1h-1zM38 291h1v1h-1zM41 291h1v1h-1zM54 291h1v1h-1zM62 291h1v1h-1zM65 291h2v1h-2zM73 291h1v1h-1zM86 291h1v1h-1zM88 291h1v1h-1zM90 291h1v1h-1zM92 291h1v1h-1zM95 291h2v1h-2zM98 291h1v1h-1zM103 291h1v1h-1zM106 291h1v1h-1zM108 291h1v1h-1zM283 291h1v1h-1zM288 291h1v1h-1zM31 292h1v1h-1zM38 292h1v1h-1zM41 292h1v1h-1zM54 292h1v1h-1zM63 292h1v1h-1zM65 292h1v1h-1zM67 292h1v1h-1zM73 292h1v1h-1zM86 292h1v1h-1zM88 292h1v1h-1zM90 292h1v1h-1zM92 292h1v1h-1zM95 292h1v1h-1zM99 292h1v1h-1zM103 292h1v1h-1zM107 292h1v1h-1zM283 292h1v1h-1zM288 292h1v1h-1zM31 293h1v1h-1zM38 293h1v1h-1zM41 293h1v1h-1zM54 293h1v1h-1zM63 293h2v1h-2zM67 293h1v1h-1zM73 293h1v1h-1zM86 293h1v1h-1zM88 293h1v1h-1zM90 293h1v1h-1zM92 293h1v1h-1zM99 293h1v1h-1zM103 293h1v1h-1zM107 293h1v1h-1zM283 293h1v1h-1zM288 293h1v1h-1zM32 294h1v1h-1zM38 294h1v1h-1zM41 294h1v1h-1zM53 294h1v1h-1zM63 294h2v1h-2zM67 294h1v1h-1zM73 294h1v1h-1zM86 294h1v1h-1zM88 294h1v1h-1zM90 294h1v1h-1zM92 294h1v1h-1zM99 294h1v1h-1zM103 294h1v1h-1zM107 294h1v1h-1zM283 294h1v1h-1zM288 294h1v1h-1zM32 295h1v1h-1zM38 295h1v1h-1zM41 295h1v1h-1zM53 295h1v1h-1zM63 295h2v1h-2zM67 295h1v1h-1zM73 295h1v1h-1zM86 295h1v1h-1zM88 295h1v1h-1zM91 295h2v1h-2zM99 295h1v1h-1zM103 295h1v1h-1zM283 295h1v1h-1zM288 295h1v1h-1zM32 296h1v1h-1zM37 296h1v1h-1zM42 296h1v1h-1zM53 296h1v1h-1zM63 296h2v1h-2zM67 296h1v1h-1zM73 296h1v1h-1zM86 296h1v1h-1zM88 296h1v1h-1zM91 296h2v1h-2zM100 296h1v1h-1zM103 296h1v1h-1zM283 296h1v1h-1zM288 296h1v1h-1zM32 297h1v1h-1zM37 297h1v1h-1zM42 297h1v1h-1zM53 297h1v1h-1zM63 297h2v1h-2zM68 297h1v1h-1zM73 297h1v1h-1zM86 297h1v1h-1zM88 297h1v1h-1zM91 297h1v1h-1zM100 297h1v1h-1zM102 297h1v1h-1zM283 297h1v1h-1zM287 297h1v1h-1zM32 298h1v1h-1zM37 298h1v1h-1zM42 298h1v1h-1zM53 298h1v1h-1zM63 298h2v1h-2zM68 298h1v1h-1zM72 298h1v1h-1zM87 298h2v1h-2zM91 298h1v1h-1zM100 298h1v1h-1zM102 298h1v1h-1zM284 298h1v1h-1zM287 298h1v1h-1zM32 299h1v1h-1zM37 299h1v1h-1zM42 299h1v1h-1zM45 299h1v1h-1zM53 299h1v1h-1zM63 299h2v1h-2zM68 299h1v1h-1zM71 299h2v1h-2zM87 299h1v1h-1zM91 299h1v1h-1zM100 299h1v1h-1zM102 299h1v1h-1zM284 299h1v1h-1zM287 299h1v1h-1zM32 300h1v1h-1zM37 300h1v1h-1zM42 300h1v1h-1zM45 300h2v1h-2zM52 300h1v1h-1zM63 300h2v1h-2zM68 300h1v1h-1zM71 300h2v1h-2zM87 300h1v1h-1zM100 300h1v1h-1zM102 300h1v1h-1zM284 300h1v1h-1zM287 300h1v1h-1zM33 301h1v1h-1zM36 301h1v1h-1zM42 301h1v1h-1zM45 301h2v1h-2zM52 301h1v1h-1zM63 301h1v1h-1zM68 301h1v1h-1zM71 301h2v1h-2zM87 301h1v1h-1zM100 301h1v1h-1zM102 301h1v1h-1zM284 301h1v1h-1zM287 301h1v1h-1zM33 302h1v1h-1zM36 302h1v1h-1zM42 302h1v1h-1zM44 302h1v1h-1zM46 302h1v1h-1zM52 302h1v1h-1zM63 302h1v1h-1zM68 302h1v1h-1zM70 302h1v1h-1zM72 302h1v1h-1zM87 302h1v1h-1zM101 302h1v1h-1zM284 302h1v1h-1zM287 302h1v1h-1zM33 303h1v1h-1zM35 303h1v1h-1zM42 303h1v1h-1zM44 303h1v1h-1zM46 303h1v1h-1zM52 303h1v1h-1zM63 303h1v1h-1zM68 303h1v1h-1zM70 303h1v1h-1zM87 303h1v1h-1zM101 303h1v1h-1zM284 303h1v1h-1zM287 303h1v1h-1zM33 304h3v1h-3zM43 304h2v1h-2zM47 304h1v1h-1zM52 304h1v1h-1zM63 304h1v1h-1zM68 304h1v1h-1zM70 304h1v1h-1zM87 304h1v1h-1zM101 304h1v1h-1zM284 304h1v1h-1zM287 304h1v1h-1zM43 305h2v1h-2zM47 305h1v1h-1zM51 305h1v1h-1zM69 305h2v1h-2zM284 305h1v1h-1zM287 305h1v1h-1zM43 306h2v1h-2zM47 306h1v1h-1zM51 306h1v1h-1zM69 306h2v1h-2zM285 306h1v1h-1zM287 306h1v1h-1zM43 307h1v1h-1zM47 307h1v1h-1zM51 307h1v1h-1zM69 307h1v1h-1zM285 307h1v1h-1zM287 307h1v1h-1zM43 308h1v1h-1zM48 308h1v1h-1zM51 308h1v1h-1zM69 308h1v1h-1zM285 308h1v1h-1zM287 308h1v1h-1zM43 309h1v1h-1zM48 309h1v1h-1zM50 309h1v1h-1zM69 309h1v1h-1zM285 309h2v1h-2zM48 310h1v1h-1zM50 310h1v1h-1zM285 310h2v1h-2zM48 311h1v1h-1zM50 311h1v1h-1zM285 311h2v1h-2zM48 312h1v1h-1zM50 312h1v1h-1zM286 312h1v1h-1zM49 313h1v1h-1zM286 313h1v1h-1zM49 314h1v1h-1zM286 314h1v1h-1zM49 315h1v1h-1z" fill="#000" shape-rendering="crispEdges"/>
<g shape-rendering="crispEdges">
<rect x="2" y="2" width="739" height="1" fill="#000"/>
<rect x="2" y="2" width="1" height="379" fill="#000"/>
<rect x="740" y="2" width="1" height="379" fill="#000"/>
<rect x="2" y="380" width="739" height="1" fill="#000"/>
<rect x="2" y="382" width="739" height="1" fill="#000"/>
<rect x="2" y="382" width="1" height="87" fill="#000"/>
<rect x="740" y="382" width="1" height="87" fill="#000"/>
<rect x="2" y="468" width="739" height="1" fill="#000"/>
<rect x="741" y="30" width="2" height="1" fill="#000"/>
<rect x="741" y="84" width="2" height="1" fill="#000"/>
<rect x="741" y="138" width="2" height="1" fill="#000"/>
<rect x="741" y="192" width="2" height="1" fill="#000"/>
<rect x="741" y="245" width="2" height="1" fill="#000"/>
<rect x="741" y="299" width="2" height="1" fill="#000"/>
<rect x="741" y="353" width="2" height="1" fill="#000"/>
<rect x="741" y="384" width="2" height="1" fill="#000"/>
<rect x="741" y="427" width="2" height="1" fill="#000"/>
<rect x="741" y="467" width="2" height="1" fill="#000"/>
<rect x="3" y="469" width="1" height="3" fill="#000"/>
<rect x="67" y="469" width="1" height="3" fill="#000"/>
<rect x="131" y="469" width="1" height="3" fill="#000"/>
<rect x="195" y="469" width="1" height="3" fill="#000"/>
<rect x="259" y="469" width="1" height="3" fill="#000"/>
<rect x="323" y="469" width="1" height="3" fill="#000"/>
<rect x="387" y="469" width="1" height="3" fill="#000"/>
<rect x="451" y="469" width="1" height="3" fill="#000"/>
<rect x="515" y="469" width="1" height="3" fill="#000"/>
<rect x="579" y="469" width="1" height="3" fill="#000"/>
<rect x="643" y="469" width="1" height="3" fill="#000"/>
<rect x="707" y="469" width="1" height="3" fill="#000"/>
</g>
<path d="M6 9h7v1h-1v1h-1v1h-1v1h-1v-1h-1v-1h-1v-1h-1z" fill="#000" shape-rendering="crispEdges"/>
<text text-rendering="geometricPrecision" transform="translate(18.6 14) scale(1 0.97)" x="0" y="0" font-family="Liberation Sans, sans-serif" font-size="10" fill="#000" stroke="#000" stroke-width="0.18" textLength="54.4" lengthAdjust="spacingAndGlyphs">GBPUSD,M5</text>
<text text-rendering="geometricPrecision" transform="translate(80 14) scale(1 0.97)" x="0" y="0" font-family="Liberation Sans, sans-serif" font-size="10" fill="#000" stroke="#000" stroke-width="0.18" textLength="27" lengthAdjust="spacingAndGlyphs">1.3058</text>
<text text-rendering="geometricPrecision" transform="translate(110.3 14) scale(1 0.97)" x="0" y="0" font-family="Liberation Sans, sans-serif" font-size="10" fill="#000" stroke="#000" stroke-width="0.18" textLength="27" lengthAdjust="spacingAndGlyphs">1.3060</text>
<text text-rendering="geometricPrecision" transform="translate(141.7 14) scale(1 0.97)" x="0" y="0" font-family="Liberation Sans, sans-serif" font-size="10" fill="#000" stroke="#000" stroke-width="0.18" textLength="27" lengthAdjust="spacingAndGlyphs">1.3057</text>
<text text-rendering="geometricPrecision" transform="translate(172.5 14) scale(1 0.97)" x="0" y="0" font-family="Liberation Sans, sans-serif" font-size="10" fill="#000" stroke="#000" stroke-width="0.18" textLength="27" lengthAdjust="spacingAndGlyphs">1.3060</text>
<text text-rendering="geometricPrecision" transform="translate(7.8 395) scale(1 0.97)" x="0" y="0" font-family="Liberation Sans, sans-serif" font-size="10" fill="#000" stroke="#000" stroke-width="0.18" textLength="142.8" lengthAdjust="spacingAndGlyphs">MACD(12,26,9) -0.00005 -0.00001</text>
<text text-rendering="geometricPrecision" transform="translate(746.7 34) scale(1 0.97)" x="0" y="0" font-family="Liberation Sans, sans-serif" font-size="10" fill="#000" stroke="#000" stroke-width="0.18" textLength="27" lengthAdjust="spacingAndGlyphs">1.3065</text>
<text text-rendering="geometricPrecision" transform="translate(746.7 88) scale(1 0.97)" x="0" y="0" font-family="Liberation Sans, sans-serif" font-size="10" fill="#000" stroke="#000" stroke-width="0.18" textLength="27" lengthAdjust="spacingAndGlyphs">1.3055</text>
<text text-rendering="geometricPrecision" transform="translate(746.7 142) scale(1 0.97)" x="0" y="0" font-family="Liberation Sans, sans-serif" font-size="10" fill="#000" stroke="#000" stroke-width="0.18" textLength="27" lengthAdjust="spacingAndGlyphs">1.3045</text>
<text text-rendering="geometricPrecision" transform="translate(746.7 196) scale(1 0.97)" x="0" y="0" font-family="Liberation Sans, sans-serif" font-size="10" fill="#000" stroke="#000" stroke-width="0.18" textLength="27" lengthAdjust="spacingAndGlyphs">1.3035</text>
<text text-rendering="geometricPrecision" transform="translate(746.7 249) scale(1 0.97)" x="0" y="0" font-family="Liberation Sans, sans-serif" font-size="10" fill="#000" stroke="#000" stroke-width="0.18" textLength="27" lengthAdjust="spacingAndGlyphs">1.3025</text>
<text text-rendering="geometricPrecision" transform="translate(746.7 303) scale(1 0.97)" x="0" y="0" font-family="Liberation Sans, sans-serif" font-size="10" fill="#000" stroke="#000" stroke-width="0.18" textLength="27" lengthAdjust="spacingAndGlyphs">1.3015</text>
<text text-rendering="geometricPrecision" transform="translate(746.7 357) scale(1 0.97)" x="0" y="0" font-family="Liberation Sans, sans-serif" font-size="10" fill="#000" stroke="#000" stroke-width="0.18" textLength="27" lengthAdjust="spacingAndGlyphs">1.3005</text>
<rect x="742" y="36" width="36" height="11" fill="#ff4500"/>
<text text-rendering="geometricPrecision" transform="translate(746.7 45) scale(1 0.97)" x="0" y="0" font-family="Liberation Sans, sans-serif" font-size="10" fill="#fff" stroke="#fff" stroke-width="0.18" textLength="27" lengthAdjust="spacingAndGlyphs">1.3063</text>
<rect x="742" y="52" width="36" height="11" fill="#000"/>
<text text-rendering="geometricPrecision" transform="translate(746.7 61) scale(1 0.97)" x="0" y="0" font-family="Liberation Sans, sans-serif" font-size="10" fill="#fff" stroke="#fff" stroke-width="0.18" textLength="27" lengthAdjust="spacingAndGlyphs">1.3060</text>
<rect x="742" y="136" width="36" height="11" fill="#008000"/>
<text text-rendering="geometricPrecision" transform="translate(746.7 145) scale(1 0.97)" x="0" y="0" font-family="Liberation Sans, sans-serif" font-size="10" fill="#fff" stroke="#fff" stroke-width="0.18" textLength="27" lengthAdjust="spacingAndGlyphs">1.3044</text>
<rect x="742" y="242" width="36" height="11" fill="#ff0000"/>
<text text-rendering="geometricPrecision" transform="translate(746.7 251) scale(1 0.97)" x="0" y="0" font-family="Liberation Sans, sans-serif" font-size="10" fill="#fff" stroke="#fff" stroke-width="0.18" textLength="27" lengthAdjust="spacingAndGlyphs">1.3025</text>
<text text-rendering="geometricPrecision" transform="translate(744 393) scale(1 0.97)" x="0" y="0" font-family="Liberation Sans, sans-serif" font-size="10" fill="#000" stroke="#000" stroke-width="0.18" textLength="27.5" lengthAdjust="spacingAndGlyphs">0.0006</text>
<text text-rendering="geometricPrecision" transform="translate(744 431) scale(1 0.97)" x="0" y="0" font-family="Liberation Sans, sans-serif" font-size="10" fill="#000" stroke="#000" stroke-width="0.18" textLength="18" lengthAdjust="spacingAndGlyphs">0.00</text>
<text text-rendering="geometricPrecision" transform="translate(744 465) scale(1 0.97)" x="0" y="0" font-family="Liberation Sans, sans-serif" font-size="10" fill="#000" stroke="#000" stroke-width="0.18" textLength="35" lengthAdjust="spacingAndGlyphs">-0.00056</text>
<text text-rendering="geometricPrecision" transform="translate(2 481) scale(1 0.97)" x="0" y="0" font-family="Liberation Sans, sans-serif" font-size="10" fill="#000" stroke="#000" stroke-width="0.18" textLength="49" lengthAdjust="spacingAndGlyphs">5 Nov 2025</text>
<text text-rendering="geometricPrecision" transform="translate(66 481) scale(1 0.97)" x="0" y="0" font-family="Liberation Sans, sans-serif" font-size="10" fill="#000" stroke="#000" stroke-width="0.18" textLength="52" lengthAdjust="spacingAndGlyphs">5 Nov 04:05</text>
<text text-rendering="geometricPrecision" transform="translate(130 481) scale(1 0.97)" x="0" y="0" font-family="Liberation Sans, sans-serif" font-size="10" fill="#000" stroke="#000" stroke-width="0.18" textLength="52" lengthAdjust="spacingAndGlyphs">5 Nov 06:45</text>
<text text-rendering="geometricPrecision" transform="translate(194 481) scale(1 0.97)" x="0" y="0" font-family="Liberation Sans, sans-serif" font-size="10" fill="#000" stroke="#000" stroke-width="0.18" textLength="52" lengthAdjust="spacingAndGlyphs">5 Nov 09:25</text>
<text text-rendering="geometricPrecision" transform="translate(258 481) scale(1 0.97)" x="0" y="0" font-family="Liberation Sans, sans-serif" font-size="10" fill="#000" stroke="#000" stroke-width="0.18" textLength="52" lengthAdjust="spacingAndGlyphs">5 Nov 12:05</text>
<text text-rendering="geometricPrecision" transform="translate(395 481) scale(1 0.97)" x="0" y="0" font-family="Liberation Sans, sans-serif" font-size="10" fill="#000" stroke="#000" stroke-width="0.18" textLength="43" lengthAdjust="spacingAndGlyphs">Nov 17:25</text>
<text text-rendering="geometricPrecision" transform="translate(450 481) scale(1 0.97)" x="0" y="0" font-family="Liberation Sans, sans-serif" font-size="10" fill="#000" stroke="#000" stroke-width="0.18" textLength="52" lengthAdjust="spacingAndGlyphs">5 Nov 20:05</text>
<text text-rendering="geometricPrecision" transform="translate(514 481) scale(1 0.97)" x="0" y="0" font-family="Liberation Sans, sans-serif" font-size="10" fill="#000" stroke="#000" stroke-width="0.18" textLength="52" lengthAdjust="spacingAndGlyphs">5 Nov 22:45</text>
<text text-rendering="geometricPrecision" transform="translate(578 481) scale(1 0.97)" x="0" y="0" font-family="Liberation Sans, sans-serif" font-size="10" fill="#000" stroke="#000" stroke-width="0.18" textLength="52" lengthAdjust="spacingAndGlyphs">6 Nov 01:45</text>
<text text-rendering="geometricPrecision" transform="translate(642 481) scale(1 0.97)" x="0" y="0" font-family="Liberation Sans, sans-serif" font-size="10" fill="#000" stroke="#000" stroke-width="0.18" textLength="52" lengthAdjust="spacingAndGlyphs">6 Nov 04:25</text>
<text text-rendering="geometricPrecision" transform="translate(706 481) scale(1 0.97)" x="0" y="0" font-family="Liberation Sans, sans-serif" font-size="10" fill="#000" stroke="#000" stroke-width="0.18" textLength="52" lengthAdjust="spacingAndGlyphs">6 Nov 07:05</text>
<rect x="311" y="472" width="80" height="11" fill="#ff0000"/>
<text text-rendering="geometricPrecision" transform="translate(315 481) scale(1 0.97)" x="0" y="0" font-family="Liberation Sans, sans-serif" font-size="10" fill="#fff" stroke="#fff" stroke-width="0.18" textLength="71" lengthAdjust="spacingAndGlyphs">2025.11.05 15:55</text>
</svg>
</body></html>
